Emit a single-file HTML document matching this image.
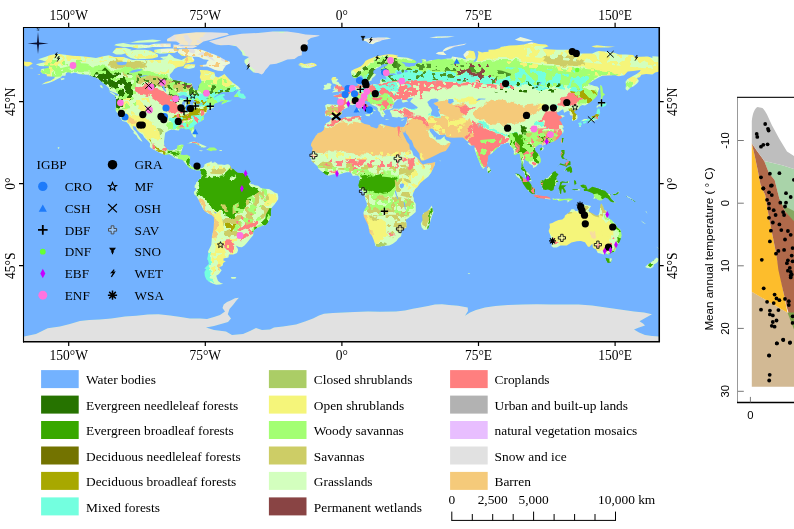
<!DOCTYPE html>
<html><head><meta charset="utf-8"><title>IGBP land cover map</title>
<style>
html,body{margin:0;padding:0;background:#fff;}
svg{display:block;}
text{font-family:"Liberation Serif","Times New Roman",serif;fill:#000;}
.sans{font-family:"Liberation Sans",Arial,sans-serif;}
</style></head><body>
<svg width="794" height="529" viewBox="0 0 794 529">
<rect width="794" height="529" fill="#fff"/>
<defs>
<clipPath id="frame"><rect x="23.5" y="27" width="635.7" height="314.5"/></clipPath>
<clipPath id="land">
<polygon points="35.9,64.2 43.2,62.6 46.8,62.0 43.2,60.8 38.1,59.3 45.0,57.1 50.5,54.9 56.9,53.8 65.1,54.8 72.3,55.7 81.5,56.2 88.7,56.9 96.0,58.0 103.3,56.2 108.8,55.3 114.2,57.1 123.3,57.1 132.5,59.9 145.2,59.9 152.5,59.9 159.8,59.9 165.2,58.9 167.1,56.2 168.9,53.5 172.5,56.2 174.3,58.0 178.0,58.9 181.6,59.9 185.3,58.0 187.1,56.6 192.6,57.1 194.4,59.9 193.5,61.7 188.9,62.9 185.3,63.5 183.4,66.2 178.0,67.1 174.3,69.0 172.5,71.7 169.8,74.4 169.8,76.8 173.4,79.9 179.8,80.8 187.1,83.0 192.0,83.5 192.6,87.2 195.3,90.3 198.0,89.9 198.9,85.3 201.7,81.7 199.8,77.2 200.7,73.5 199.8,70.1 207.1,70.2 214.4,72.6 215.3,76.2 218.1,77.5 222.6,75.3 224.4,73.9 229.0,79.0 232.6,82.6 238.1,86.3 240.5,89.0 236.3,90.3 232.6,92.1 227.2,92.1 221.7,92.3 219.0,93.7 215.3,95.9 213.5,97.6 214.8,97.6 218.1,95.4 220.8,94.3 224.4,94.1 225.0,95.4 222.6,96.6 223.9,98.1 225.3,99.9 230.8,100.5 232.6,99.0 230.8,101.2 226.2,102.5 221.7,104.5 221.7,102.7 224.4,100.8 219.9,101.7 214.4,104.1 213.1,107.2 214.4,107.8 210.8,108.7 207.1,109.8 207.1,111.8 204.4,114.5 203.5,116.3 204.0,119.0 201.7,120.9 198.0,122.7 194.4,125.4 193.8,128.2 195.3,132.7 196.2,136.3 195.3,137.8 193.5,136.7 191.3,133.1 191.1,130.9 188.9,129.1 186.2,129.6 183.4,128.3 179.8,128.5 178.9,130.5 176.2,130.3 171.6,129.6 168.9,130.5 165.2,132.7 164.7,136.3 164.0,141.8 164.3,145.5 167.1,149.1 169.8,150.6 174.3,149.8 177.1,148.2 177.4,145.5 181.6,144.5 183.8,144.9 182.5,148.2 181.6,150.9 180.4,154.6 183.4,154.9 187.1,154.7 190.2,156.4 189.8,160.0 189.5,163.7 191.6,166.4 194.4,167.7 197.1,166.4 200.9,167.9 200.0,170.6 196.2,170.4 194.4,169.7 191.1,168.8 189.5,167.9 187.1,165.5 185.6,163.7 182.5,160.0 178.9,159.1 175.3,158.2 171.6,155.5 168.9,154.2 165.2,154.9 160.7,153.3 156.1,150.9 152.5,149.1 149.8,146.9 150.1,143.6 147.9,140.9 144.3,137.6 142.5,134.5 139.7,132.7 137.0,130.0 135.7,126.7 132.8,126.0 133.4,129.1 136.1,131.8 137.9,134.5 139.7,137.3 141.6,140.0 142.5,141.8 141.0,140.9 137.9,138.2 136.6,135.4 133.4,133.1 133.9,131.4 131.0,128.5 128.8,124.5 126.4,122.1 122.4,120.9 120.1,117.2 118.8,114.9 116.4,111.8 115.5,110.1 115.9,107.2 116.1,102.7 116.1,99.4 114.8,95.5 118.8,95.4 117.9,94.1 114.2,92.6 109.7,90.8 108.8,88.1 105.1,84.4 102.4,82.6 99.7,79.9 95.1,77.2 92.4,76.8 87.8,74.8 83.3,74.4 78.7,74.1 75.1,72.6 71.4,73.5 68.7,72.2 66.0,73.0 65.4,75.7 62.3,75.7 60.5,77.5 56.9,79.3 53.2,81.2 48.7,83.0 44.1,83.9 41.4,84.4 45.9,82.1 50.5,80.8 54.1,78.6 55.0,76.8 50.5,76.6 46.8,76.2 46.8,74.4 42.3,73.5 40.5,71.7 41.4,69.0 45.0,68.6 48.7,67.7 48.7,66.2 45.0,66.2 39.6,66.0"/>
<polygon points="200.9,167.9 202.0,168.2 204.2,166.4 204.4,164.4 207.1,163.1 209.9,162.2 211.3,161.1 212.0,162.8 214.4,162.6 214.4,161.5 217.5,163.7 217.7,164.6 221.7,164.4 224.4,165.1 227.2,164.2 229.0,164.4 230.8,166.4 231.2,168.2 233.5,169.1 235.4,171.0 237.7,172.8 240.8,173.0 243.5,173.1 246.3,174.8 248.1,175.9 249.4,179.1 250.8,181.9 250.3,183.7 253.6,184.6 254.5,185.2 258.1,185.7 260.9,187.9 264.5,188.8 269.0,189.0 271.8,190.4 274.5,192.4 277.6,193.4 278.3,196.4 278.2,199.2 276.3,201.9 274.5,204.6 271.8,207.4 270.9,211.0 270.9,215.6 269.6,219.2 267.6,222.9 265.6,225.2 262.7,225.6 259.9,226.9 257.2,227.8 254.5,229.8 253.4,232.0 253.2,235.2 250.8,238.0 249.0,240.2 246.8,242.9 244.5,245.6 241.9,247.3 239.0,247.1 235.7,245.6 237.7,248.4 238.1,250.2 237.0,252.9 233.5,254.4 229.0,254.5 228.4,257.5 223.5,258.4 223.5,260.7 225.9,261.1 223.2,262.9 222.6,265.7 219.0,267.5 221.7,270.2 219.0,273.9 216.2,275.7 217.3,279.0 218.1,281.1 220.8,283.0 223.2,283.7 219.9,284.4 216.2,284.8 212.6,283.5 208.9,281.7 206.2,279.3 204.8,275.7 204.4,272.0 206.2,269.3 204.4,268.4 207.1,265.7 208.9,263.8 208.0,260.2 207.1,259.3 207.7,256.6 208.4,252.9 208.0,251.5 209.5,248.4 211.3,244.7 211.7,240.2 211.9,236.5 212.6,232.9 213.5,229.2 213.7,226.5 214.0,221.9 213.9,217.4 211.7,215.2 208.0,213.4 204.4,211.0 202.9,208.8 201.3,205.6 199.5,201.9 198.0,198.8 196.6,196.4 194.4,194.6 193.8,191.9 195.6,189.9 196.2,188.3 194.6,187.7 194.7,185.5 196.0,183.7 196.2,182.2 198.4,181.0 198.9,179.1 200.7,178.8 201.1,176.4 200.7,173.7 200.9,171.3 200.0,170.6"/>
<polygon points="261.8,74.6 258.1,73.1 253.6,72.6 250.8,69.9 248.1,67.1 244.5,62.6 244.5,59.9 249.0,57.1 242.6,55.3 242.1,52.6 239.9,49.8 236.3,46.2 229.0,44.9 220.8,45.3 216.2,44.4 212.6,42.9 208.9,41.3 218.1,38.9 223.5,37.6 229.0,35.8 241.7,33.8 258.1,32.9 272.7,31.6 287.3,31.6 298.2,32.9 305.5,34.4 318.2,35.3 320.0,35.8 310.9,38.0 307.3,40.7 308.2,43.5 305.5,46.2 307.3,48.0 301.8,50.7 301.8,52.6 301.8,55.3 298.2,56.2 294.5,58.9 287.3,59.5 281.8,61.7 276.3,63.7 270.0,64.4 268.1,67.1 265.4,69.9 263.6,73.0"/>
<polygon points="331.9,118.0 330.4,117.0 328.4,115.9 325.5,116.3 324.8,113.2 325.9,109.0 325.0,105.4 327.3,104.1 331.9,104.5 336.4,104.7 338.8,104.7 339.7,102.7 339.9,99.9 337.9,97.7 333.7,96.6 333.3,95.5 336.4,94.8 339.0,95.0 338.8,93.2 339.7,93.7 342.3,93.5 344.6,92.5 344.8,91.0 347.4,90.3 349.2,89.0 350.6,87.2 352.8,86.3 354.6,86.3 357.4,86.1 357.7,84.4 356.8,82.6 356.7,79.9 359.2,79.5 361.2,78.6 361.0,80.8 360.1,82.6 359.6,83.9 361.9,85.3 364.7,84.6 367.8,85.5 372.0,84.4 375.6,84.1 378.0,84.6 380.1,83.0 380.1,79.9 382.9,78.6 386.2,79.5 386.2,77.5 384.7,75.9 389.3,75.2 392.9,75.3 396.5,74.4 393.8,73.3 387.4,74.1 383.6,74.6 381.1,73.3 380.7,70.8 381.1,68.6 386.5,65.7 388.0,64.4 385.6,63.9 382.0,64.4 380.7,66.2 376.5,68.6 373.4,70.8 373.2,73.1 376.1,74.4 374.7,76.2 372.0,78.4 371.6,80.6 368.3,81.7 367.8,82.8 365.6,82.8 365.0,81.3 363.4,79.0 362.3,76.2 361.0,75.3 359.2,76.2 356.5,77.9 353.7,77.9 351.9,76.2 351.0,72.6 351.4,70.8 354.6,69.0 357.4,67.9 361.0,66.2 363.8,63.5 365.6,60.8 369.2,58.9 372.0,58.0 375.6,56.6 380.1,55.8 384.7,54.8 388.7,54.2 392.9,54.4 398.4,55.7 396.5,56.8 402.0,57.3 407.5,57.8 414.8,60.2 416.6,62.0 414.8,63.1 409.3,62.9 403.8,62.2 401.1,61.7 404.7,64.4 405.3,66.2 409.3,67.1 411.1,66.2 414.8,66.0 415.7,64.4 418.4,62.8 422.0,63.1 422.4,60.2 421.1,58.9 425.7,59.5 426.6,61.7 429.3,60.4 433.0,59.9 438.4,58.9 441.2,59.5 447.5,58.4 451.2,58.6 452.1,56.6 458.5,57.5 462.1,58.0 463.9,58.9 466.7,59.3 463.9,56.2 463.4,54.4 466.7,51.1 469.4,50.4 473.9,51.3 474.9,53.5 475.8,58.0 473.0,62.6 476.7,60.8 477.6,58.0 478.5,53.5 477.6,51.1 482.1,52.6 484.9,52.0 488.5,51.7 488.5,49.8 494.9,49.5 500.4,48.0 500.4,47.1 509.5,45.6 516.7,45.3 524.0,44.4 531.3,42.2 535.0,42.9 538.6,44.0 545.9,44.4 548.6,46.2 542.2,48.6 547.7,49.3 556.8,49.8 565.9,49.8 573.2,49.8 577.8,51.7 576.8,53.5 582.3,53.5 586.0,53.5 592.3,53.5 596.0,51.7 598.7,51.1 607.8,51.8 615.1,53.1 618.7,54.4 626.0,54.4 633.3,54.9 634.2,56.8 640.6,56.8 647.9,56.6 652.4,58.0 652.4,56.2 657.0,56.6 663.4,56.9 669.7,58.0 669.7,65.3 667.0,66.2 665.2,65.9 668.8,69.9 660.6,71.1 655.2,72.6 652.4,74.4 646.1,74.1 641.5,74.8 639.7,77.2 637.0,78.1 638.8,80.8 638.4,81.7 637.0,83.5 633.3,86.6 630.6,87.4 627.3,90.8 625.5,89.0 626.0,85.3 625.5,81.7 627.3,79.3 632.4,76.2 636.6,73.9 639.7,71.7 640.6,69.9 633.3,71.1 627.8,71.5 624.2,75.3 618.7,76.2 615.1,75.2 607.8,75.5 602.3,75.7 597.8,78.1 593.2,80.8 588.3,84.1 592.3,85.3 594.2,85.9 597.4,86.6 599.2,88.6 597.8,92.6 597.4,95.4 594.2,99.0 589.6,102.7 585.0,105.4 582.3,105.0 580.1,106.3 578.3,109.0 575.0,110.8 574.1,112.1 577.4,115.4 577.6,118.1 576.5,119.8 572.3,120.9 571.9,119.0 572.5,116.3 570.1,115.0 569.6,113.6 569.9,111.8 568.1,110.8 564.1,112.7 563.2,109.4 562.3,109.4 558.6,112.1 556.3,112.7 557.7,114.5 559.0,115.8 561.9,114.9 565.0,115.9 562.3,117.6 559.2,120.0 561.0,121.8 562.3,124.5 563.9,127.2 562.3,128.2 563.7,130.0 563.2,132.7 560.5,135.4 558.6,138.2 556.8,139.4 555.0,141.1 550.4,142.7 548.6,143.3 545.0,144.5 542.8,145.5 542.6,146.7 541.7,144.5 539.1,144.4 536.4,146.4 534.6,149.1 535.9,151.8 539.0,154.6 540.8,159.1 540.8,162.2 537.7,164.6 536.2,166.4 533.1,167.9 532.8,165.5 529.5,163.7 528.2,161.5 525.7,160.4 524.9,159.1 524.0,159.5 523.7,162.8 522.6,165.5 523.7,166.9 524.6,168.6 525.9,171.0 527.7,172.4 529.9,175.0 530.4,178.2 531.7,181.2 530.4,181.3 526.8,178.6 525.3,176.4 524.6,173.3 523.1,171.0 520.9,169.1 521.3,166.4 521.5,161.8 520.4,158.2 519.7,154.2 517.7,153.6 515.5,154.9 513.6,154.6 514.0,151.3 512.7,148.2 510.0,145.8 509.1,142.7 506.7,143.1 504.0,144.0 500.4,144.5 500.0,146.4 497.6,147.8 494.9,150.6 491.8,153.5 488.2,155.5 488.0,159.1 487.2,162.8 487.2,164.9 485.8,166.8 484.3,167.7 483.1,168.9 480.9,165.9 479.4,162.2 478.0,159.1 476.7,155.5 475.4,151.8 474.5,149.1 474.5,145.5 473.2,145.5 471.2,145.8 469.4,145.1 467.6,143.3 469.8,142.2 466.7,140.9 464.5,139.1 463.0,137.6 458.5,137.6 453.9,137.8 449.4,137.4 446.3,136.7 445.3,134.5 442.1,135.1 439.3,135.1 437.5,133.6 434.8,131.2 433.0,129.1 430.8,128.5 429.3,129.4 430.2,131.8 432.1,134.0 433.3,135.4 434.2,137.8 435.2,136.2 435.9,138.2 435.7,139.4 437.5,139.6 440.3,139.6 443.0,137.6 444.4,136.0 444.8,138.5 446.6,140.4 448.8,140.9 450.8,142.7 449.4,145.8 447.2,149.1 445.7,150.9 443.0,151.8 440.3,152.7 437.0,154.6 433.0,156.4 429.3,158.2 423.9,160.4 421.1,160.6 420.2,158.2 419.7,156.4 419.3,153.6 416.6,150.0 413.8,146.4 412.9,143.6 411.7,140.4 409.8,139.1 408.4,136.3 405.6,132.7 405.3,130.2 404.2,133.1 402.4,131.8 401.3,129.2 400.9,126.9 404.2,126.7 405.5,124.5 406.6,121.8 407.1,118.1 407.8,116.9 404.7,116.9 402.0,118.0 398.4,116.7 397.4,117.6 394.7,117.2 392.0,116.7 391.4,113.9 390.2,112.1 389.8,110.8 391.1,109.9 394.7,109.0 394.7,108.7 392.9,108.1 390.2,109.6 385.6,109.4 385.1,110.8 383.2,109.9 383.8,112.1 385.6,114.5 383.8,115.4 383.8,117.2 382.0,116.7 380.7,114.9 380.1,112.7 378.0,110.8 377.4,108.1 376.5,106.8 372.9,105.4 370.1,103.6 369.2,101.7 367.4,101.7 366.7,100.5 364.3,101.2 364.5,103.2 366.9,104.5 368.7,106.8 371.0,107.4 371.4,107.8 374.7,109.8 375.6,110.5 375.2,111.2 372.9,109.9 372.0,111.4 373.2,112.7 372.0,113.9 371.0,114.5 370.5,114.5 371.0,112.7 370.5,110.8 368.3,109.6 365.6,108.5 363.8,107.2 361.0,105.4 360.5,103.6 357.7,102.8 355.6,103.9 352.8,105.2 350.1,104.7 347.7,105.0 347.7,106.7 347.7,107.6 345.5,108.5 343.4,109.4 341.4,111.8 342.3,113.2 340.6,115.0 338.3,116.7 333.7,116.9"/>
<polygon points="331.2,118.5 332.2,118.3 336.4,119.4 338.3,119.8 341.9,118.5 344.6,117.2 347.4,116.7 351.0,116.7 354.6,116.3 359.7,115.8 361.9,116.3 360.5,117.2 361.4,118.7 360.5,121.2 361.9,122.5 364.7,124.0 369.6,124.9 371.0,126.7 373.8,127.6 376.5,128.5 378.3,127.2 378.5,124.9 381.1,123.8 384.2,124.9 387.4,125.8 391.1,126.7 394.7,127.4 398.4,126.3 400.9,126.9 401.3,129.2 402.9,132.7 403.8,135.4 405.6,139.1 406.9,141.8 409.3,144.5 409.8,149.1 412.0,150.9 413.5,155.5 416.6,157.3 419.3,160.0 420.8,162.4 422.9,164.6 427.5,163.3 431.1,163.1 435.2,162.0 435.0,164.6 433.3,168.2 431.1,172.8 428.4,176.4 423.9,180.1 420.2,183.2 417.5,187.0 415.1,189.2 413.5,192.4 412.6,195.5 413.8,198.3 413.8,201.0 415.7,203.7 415.8,209.2 415.7,211.9 412.0,215.2 408.4,217.9 405.6,220.1 406.6,223.8 406.6,227.4 402.0,230.1 401.6,232.9 401.1,236.2 398.4,238.3 396.5,241.1 392.9,243.8 389.3,245.6 383.8,246.0 378.3,247.1 375.4,246.0 374.7,242.9 373.4,239.2 372.0,236.0 369.6,232.9 368.3,225.6 366.5,221.9 363.8,216.5 363.4,212.8 364.7,209.2 366.5,206.5 367.0,203.7 365.6,200.1 364.3,194.6 363.8,192.8 361.9,190.6 359.2,188.3 358.3,185.2 359.2,181.9 359.7,178.2 359.2,176.4 357.4,175.5 354.6,175.7 352.8,175.9 351.6,173.7 350.1,172.2 346.5,172.2 343.7,173.0 340.1,174.2 338.3,175.0 336.4,174.4 333.7,174.2 331.0,175.0 328.2,175.7 325.5,174.6 322.8,172.2 321.0,171.1 318.2,168.6 317.7,166.4 315.5,164.6 314.6,163.7 311.5,161.1 311.3,159.1 310.0,156.9 311.8,154.6 312.2,150.9 312.6,148.2 310.9,145.5 311.3,143.3 312.8,140.5 314.9,137.3 315.5,136.0 318.2,133.1 321.0,132.2 323.7,130.0 324.2,127.2 325.0,124.5 326.4,122.9 329.2,121.8 330.6,119.6"/>
<polygon points="431.7,205.6 433.5,211.9 432.1,215.6 430.2,221.9 428.4,228.3 426.6,229.8 423.9,230.1 421.7,227.4 420.8,223.8 422.6,220.1 422.0,215.6 423.9,212.8 427.5,211.0 429.9,208.3"/>
<polygon points="549.5,223.8 549.9,227.4 548.6,231.1 550.4,235.6 551.3,239.2 552.6,242.0 551.3,246.0 553.2,247.4 556.8,247.4 560.5,245.6 566.8,245.6 571.4,242.5 576.8,241.3 580.9,241.1 585.0,242.3 587.8,246.5 589.2,247.1 592.3,243.8 592.9,247.4 594.2,248.4 596.0,249.3 597.8,252.9 600.5,253.6 603.3,254.4 606.0,253.3 608.4,254.7 611.5,252.5 615.1,251.6 616.0,248.4 617.5,244.7 619.6,242.0 620.6,239.2 621.7,235.6 620.9,231.1 620.2,229.2 616.9,226.9 616.0,224.7 613.3,221.9 611.5,220.1 608.7,218.3 607.8,215.6 606.7,212.8 606.5,210.7 604.2,209.7 603.3,207.0 601.6,203.4 600.5,204.6 600.0,208.3 599.6,211.9 598.3,215.6 596.0,215.6 593.2,213.8 589.6,211.9 588.7,210.7 589.6,208.3 591.1,205.9 588.7,205.6 584.1,204.6 582.3,204.1 580.5,205.9 578.7,208.3 577.8,211.0 575.4,211.0 574.1,209.2 571.4,209.2 569.6,211.9 567.7,213.4 565.0,215.6 564.5,217.4 562.3,219.4 558.6,220.1 555.0,221.4 552.3,222.9"/>
<polygon points="605.4,257.8 608.7,258.6 611.8,258.2 612.0,260.6 610.5,262.6 607.8,263.1 606.4,260.7"/>
<polygon points="656.4,246.5 659.7,249.6 662.1,251.1 663.4,252.5 666.6,252.4 665.2,255.3 663.9,257.1 661.2,259.5 660.3,258.7 660.6,256.6 658.4,255.3 660.1,252.9 659.9,250.7 657.9,248.4"/>
<polygon points="656.6,257.5 659.2,258.9 657.9,261.5 656.6,263.1 653.9,264.4 653.3,267.1 650.6,268.6 647.5,268.0 645.1,267.1 647.9,264.2 651.5,262.0 654.3,259.8"/>
<polygon points="580.5,185.2 583.2,184.4 586.0,185.3 587.8,189.7 592.3,186.8 596.0,187.7 598.7,188.4 602.3,189.9 605.1,190.8 607.4,193.2 610.5,194.6 611.1,196.4 609.6,196.4 611.5,199.2 614.2,201.5 616.0,202.8 613.3,202.5 610.5,201.5 607.8,198.6 605.1,197.5 603.3,198.8 601.4,200.5 598.7,200.3 596.0,198.5 593.2,198.8 594.2,196.4 593.2,193.7 589.6,192.1 586.9,191.0 584.1,191.0 583.6,189.5 585.4,188.3 582.9,187.9 580.5,186.2"/>
<polygon points="540.4,181.0 541.5,180.1 544.1,180.4 545.0,178.6 547.7,177.9 550.4,175.1 553.2,171.9 555.4,171.0 556.3,172.8 558.6,174.2 557.2,175.9 556.3,177.3 556.8,180.1 558.5,181.9 556.4,182.4 555.9,185.0 554.1,186.8 553.7,189.5 552.8,190.4 550.8,191.0 549.5,189.9 547.7,189.5 545.5,190.1 542.8,189.2 542.2,186.4 540.8,184.6 540.4,182.8"/>
<polygon points="515.5,173.5 518.6,174.0 520.9,176.1 524.0,178.6 526.8,180.1 529.5,182.2 531.0,184.2 532.2,187.0 535.0,188.8 535.0,191.0 534.6,194.3 532.2,193.9 529.5,191.9 526.8,189.2 524.9,186.4 523.1,184.1 521.8,181.0 519.5,178.6 516.7,176.4 515.5,174.6"/>
<polygon points="533.5,196.1 535.9,194.6 539.5,195.5 543.2,196.1 546.8,196.3 550.3,197.7 550.4,199.5 546.8,199.0 542.2,198.5 538.6,197.9 535.9,197.2"/>
<polygon points="560.1,182.2 562.3,181.3 565.9,181.9 569.6,180.8 568.7,182.8 565.9,182.8 562.3,182.8 561.0,185.2 563.2,185.3 566.5,185.3 564.6,187.0 563.7,187.3 565.0,189.7 565.9,191.0 565.4,192.8 563.7,192.4 563.2,190.1 561.9,188.6 561.4,191.0 561.2,193.7 559.5,193.7 559.5,190.1 558.5,188.6 559.5,185.5 560.1,183.7"/>
<polygon points="552.3,198.6 555.0,198.8 558.6,198.8 562.3,199.0 565.9,198.8 568.7,198.6 573.2,199.0 570.5,200.6 567.2,202.5 567.7,200.6 564.1,199.9 560.5,201.0 558.6,201.2 557.7,199.7 555.0,200.1 553.2,199.9"/>
<polygon points="574.1,180.1 575.9,181.0 576.3,183.2 574.8,185.2 574.1,182.8"/>
<polygon points="575.0,189.2 580.1,189.2 579.6,190.6 575.9,190.3 571.7,189.7 573.2,189.3"/>
<polygon points="561.4,150.0 564.5,150.0 564.6,153.6 563.2,156.4 564.1,158.2 567.7,160.0 567.7,160.9 565.0,159.1 562.3,158.7 561.4,157.3 560.5,154.6 561.2,152.7"/>
<polygon points="564.1,171.0 566.8,168.0 570.5,165.9 571.9,168.2 572.3,171.9 570.5,173.3 569.6,171.3 567.7,171.9 566.8,170.0"/>
<polygon points="564.1,164.6 565.9,162.6 568.7,160.9 570.5,161.5 570.5,165.1 567.7,165.5 566.3,166.9 565.0,166.0 559.5,164.6 555.5,168.2 558.6,165.5 560.1,163.3"/>
<polygon points="562.3,137.8 563.9,138.2 563.0,141.8 561.9,143.6 560.8,141.8 561.0,140.0"/>
<polygon points="539.9,148.5 542.2,147.3 544.1,147.8 542.8,150.2 540.4,150.4"/>
<polygon points="487.2,166.0 489.1,167.3 490.9,170.0 490.3,172.2 488.5,173.0 487.2,171.0 487.2,168.2"/>
<polygon points="580.3,121.8 582.3,121.2 585.0,121.2 587.8,120.7 589.2,122.7 591.1,121.2 594.2,120.7 596.0,120.0 598.3,119.0 598.7,115.4 600.2,112.7 599.6,109.0 597.8,108.5 596.9,110.8 596.5,113.6 594.2,115.8 591.4,116.3 590.5,118.1 588.7,118.9 584.1,119.0 581.4,120.5"/>
<polygon points="578.7,122.7 581.0,122.3 581.9,124.0 580.5,126.9 579.2,126.7 579.0,124.5 578.1,123.6"/>
<polygon points="582.9,122.1 586.0,121.2 587.0,122.1 585.0,123.6 583.4,123.8"/>
<polygon points="596.9,108.1 598.7,106.3 602.7,107.2 606.0,105.4 606.5,103.2 603.3,103.0 600.5,101.0 599.6,103.6 599.2,105.0 597.4,105.4 596.5,106.8"/>
<polygon points="600.5,84.8 602.0,86.3 602.7,89.0 602.9,92.6 605.1,94.5 602.9,96.3 602.3,99.0 600.5,99.9 600.9,96.3 600.5,92.6 600.2,89.0 600.2,86.3"/>
<polygon points="331.9,92.5 335.5,92.1 340.1,91.4 344.3,90.4 344.1,89.0 345.0,87.7 342.4,87.2 341.5,85.3 339.2,83.5 338.3,81.7 336.4,81.7 338.3,79.0 335.5,78.6 336.4,77.0 332.8,77.0 331.3,79.0 331.9,81.2 332.8,83.5 335.5,83.9 336.4,86.3 333.7,86.8 334.1,88.4 332.4,89.4 335.5,89.9 333.7,90.8"/>
<polygon points="331.0,88.6 330.6,86.6 331.7,84.4 330.1,83.2 327.3,83.2 326.4,84.8 323.7,85.0 324.6,87.2 323.1,89.0 324.6,89.9 327.3,89.4"/>
<polygon points="300.9,67.3 305.5,68.0 309.1,68.2 314.6,66.6 317.1,65.3 314.9,63.5 311.8,62.8 308.2,63.5 304.6,64.0 300.9,62.8 298.2,64.4 301.8,65.0 298.2,65.7 301.8,66.6"/>
<polygon points="361.9,38.9 367.4,38.4 371.0,38.0 378.3,37.4 387.4,37.6 391.1,38.4 382.0,40.2 380.1,41.3 375.6,42.5 372.9,44.2 369.2,43.5 366.5,41.6 362.8,40.2"/>
<polygon points="435.7,53.5 438.4,54.4 443.0,55.1 446.6,55.1 443.9,52.6 443.0,50.2 445.7,48.0 449.4,46.6 456.6,45.3 462.1,44.2 466.7,43.5 463.9,44.9 454.8,46.7 449.4,48.9 445.7,50.7 442.1,51.7 438.4,52.0"/>
<polygon points="514.9,39.8 520.4,37.1 527.7,38.9 533.1,40.7 524.0,41.6 518.6,40.7"/>
<polygon points="591.4,46.2 596.9,45.3 606.0,46.2 615.1,46.7 607.8,47.5 600.5,47.5 595.1,47.6"/>
<polygon points="667.0,54.4 669.7,53.5 669.7,54.6"/>
<polygon points="429.3,37.4 436.6,36.5 447.5,36.2 454.8,36.5 447.5,37.6 436.6,38.0"/>
<polygon points="234.1,97.0 238.1,97.0 241.7,98.5 245.4,98.6 245.9,97.0 244.5,95.4 243.5,93.7 240.5,93.5 239.9,91.7 240.8,89.9 238.1,90.8 236.3,93.5 234.4,95.4"/>
<polygon points="187.3,143.8 190.7,142.0 194.4,141.6 198.0,142.7 201.7,144.5 205.3,146.0 206.8,146.9 204.4,147.5 200.4,147.6 201.3,146.4 198.9,145.5 195.3,143.6 192.6,142.9 189.8,143.3"/>
<polygon points="206.4,149.8 209.9,147.5 214.4,147.6 217.1,149.6 216.2,150.4 212.6,150.6 211.3,151.3 208.9,150.6"/>
<polygon points="199.3,150.2 202.9,150.6 201.8,151.3 199.5,150.9"/>
<polygon points="219.5,150.0 222.2,150.2 221.9,150.9 219.5,150.9"/>
<polygon points="178.0,49.3 187.1,48.9 196.2,48.9 201.7,49.7 208.9,52.6 214.4,54.4 219.9,57.1 225.3,59.9 229.9,61.7 229.9,63.5 226.2,65.3 223.5,69.0 222.6,71.1 218.1,70.8 214.4,69.7 210.8,68.0 207.1,66.4 200.7,66.8 199.3,65.3 206.2,64.4 207.1,61.7 208.9,59.9 203.5,59.3 198.9,57.1 196.2,56.8 192.6,56.8 187.1,56.6 181.6,55.7 178.0,52.6"/>
<polygon points="125.2,53.5 128.8,50.7 136.1,49.8 145.2,49.8 150.7,50.7 157.9,54.4 157.9,57.1 152.5,58.6 145.2,58.9 136.1,59.3 130.6,58.0 127.0,55.8"/>
<polygon points="112.4,52.6 116.1,48.0 125.2,47.8 131.5,49.8 128.8,52.6 121.5,54.4 116.1,54.4"/>
<polygon points="178.0,44.9 187.1,44.9 198.0,45.3 203.5,41.6 210.8,39.8 219.9,37.1 229.0,34.7 227.2,32.9 210.8,32.2 196.2,32.3 183.4,33.6 174.3,34.7 170.7,37.1 167.1,38.9 167.1,41.3 176.2,41.6 179.8,43.5"/>
<polygon points="173.4,48.0 181.6,48.2 192.6,48.2 197.1,46.6 194.4,45.3 181.6,45.6 173.4,44.4"/>
<polygon points="159.8,57.1 167.1,56.2 168.0,58.4 163.4,58.9"/>
<polygon points="114.2,45.3 123.3,47.1 130.6,47.1 137.9,48.4 148.8,47.8 152.5,47.1 163.4,47.1 170.7,47.1 170.7,43.5 163.4,43.5 154.3,43.8 148.8,45.3 141.6,44.4 130.6,44.4 123.3,43.1 116.1,44.0"/>
<polygon points="119.7,42.4 130.6,42.4 137.9,40.7 152.5,39.5 161.6,40.4 154.3,42.2 137.9,42.7"/>
<polygon points="154.3,49.8 159.8,48.9 167.1,48.6 176.2,48.6 178.9,50.7 174.3,52.9 168.9,52.9 165.2,53.5 159.8,53.8 154.3,52.6"/>
<polygon points="183.4,68.0 188.9,69.0 194.4,67.7 195.3,64.4 188.9,63.9 185.3,64.8"/>
<polygon points="108.4,91.2 112.4,92.6 117.0,95.7 114.2,95.2 111.5,93.5"/>
<polygon points="99.7,85.2 102.0,85.5 103.3,88.6 100.6,87.2"/>
<polygon points="60.5,78.4 64.2,78.1 64.5,79.3 61.4,80.3"/>
<polygon points="359.0,105.4 359.2,107.2 358.7,108.3 357.6,107.2 357.7,106.1"/>
<polygon points="358.7,108.7 359.6,109.9 359.2,112.3 357.4,112.7 357.2,109.9"/>
<polygon points="364.7,114.5 370.1,114.1 369.6,116.3 366.5,115.9"/>
<polygon points="384.9,119.0 389.6,119.6 386.5,120.0"/>
<polygon points="400.7,120.0 402.9,119.4 404.7,118.9 403.5,120.1 402.0,120.7"/>
<polygon points="57.8,146.9 59.6,147.6 58.7,149.1 57.8,148.2"/>
<polygon points="230.8,277.1 236.3,277.1 235.4,278.8 231.7,278.8"/>
<polygon points="467.6,272.9 470.3,273.3 469.0,274.2"/>
<polygon points="640.6,220.3 645.1,223.4 646.1,224.3 643.3,222.9"/>
<polygon points="612.4,193.7 616.0,193.7 618.7,191.3 619.3,192.8 616.9,194.6 614.2,195.2"/>
<polygon points="626.0,195.5 629.7,197.4 633.3,200.1 636.0,202.3 634.2,201.5 630.6,198.8 626.9,196.8"/>
<polygon points="664.8,215.6 667.2,215.6 667.0,216.8 664.8,216.7"/>
<polygon points="645.3,211.0 646.4,211.4 647.5,213.8 646.6,212.8"/>
<polygon points="439.0,160.8 441.2,160.8 440.3,161.3"/>
<polygon points="14.1,58.0 19.5,59.3 25.0,61.7 30.5,62.0 32.8,63.5 28.6,66.2 26.8,66.6 21.4,64.4 16.8,63.5 14.1,65.3"/>
<polygon points="29.0,68.0 34.1,68.4 31.7,67.7"/>
<polygon points="37.2,74.1 40.1,73.9 39.6,74.8"/>
<polygon points="24,336.5 36,334 47.7,328.2 60,326.5 69.9,324 80,321 89.3,319.9 100,319.5 111.4,318.5 125,316.5 136.4,315.7 148,314.5 158.5,314.3 170,315.5 180.7,317.1 190,318.5 200,318.5 207,319 214,317 220,315 225,311.6 222.5,308 223.7,304.6 227,302 230.6,300.5 235,298.2 238.9,297.7 236,301 233.4,304.6 229.5,309 227.8,314.3 231,318.5 228,322 221,324 214,326 206,327.5 214,330 226,331.5 232,335 243,334 250,331 256,328 262,330 270,329.5 274,327.5 283,326.5 296,324.5 305,321.5 313,318.5 319,315.5 324,313.8 333,313 344,312.6 354.7,312.1 368,311.5 380,311.8 396,311.6 405,310.6 412.9,308.8 420,307.5 428,306 435,304.6 442,304.2 449,305 458,305.8 467.7,307.4 468,311 465,315.7 470,312.5 476,310 485,307.5 495.4,306 508,305 523,304.6 537,304.2 550.8,304.6 565,304.6 578.5,304.6 592,305.5 606,307.4 620,309.5 634,311.6 644,312.5 652,314.3 647,317 639.5,321.3 643,323.5 645,325.4 639,327.5 634,329.6 639,332.5 645,335 652,336 659.2,336.5 659.2,341.5 24,341.5"/>
</clipPath>
<filter id="rough" x="0" y="0" width="100%" height="100%" filterUnits="userSpaceOnUse" primitiveUnits="userSpaceOnUse">
<feTurbulence type="fractalNoise" baseFrequency="0.11" numOctaves="3" seed="7" result="n"/>
<feDisplacementMap in="SourceGraphic" in2="n" scale="9" xChannelSelector="R" yChannelSelector="G"/>
</filter>
<filter id="spA" x="0" y="0" width="794" height="529" filterUnits="userSpaceOnUse" color-interpolation-filters="sRGB">
<feTurbulence type="fractalNoise" baseFrequency="0.13" numOctaves="2" seed="3" result="n"/>
<feColorMatrix in="n" type="matrix" values="0 0 0 0 0  0 0 0 0 0  0 0 0 0 0  40 0 0 0 -20" result="m"/>
<feComposite in="SourceGraphic" in2="m" operator="in"/>
</filter>
<filter id="spB" x="0" y="0" width="794" height="529" filterUnits="userSpaceOnUse" color-interpolation-filters="sRGB">
<feTurbulence type="fractalNoise" baseFrequency="0.16" numOctaves="2" seed="11" result="n"/>
<feColorMatrix in="n" type="matrix" values="0 0 0 0 0  0 0 0 0 0  0 0 0 0 0  40 0 0 0 -22" result="m"/>
<feComposite in="SourceGraphic" in2="m" operator="in"/>
</filter>
<filter id="spC" x="0" y="0" width="794" height="529" filterUnits="userSpaceOnUse" color-interpolation-filters="sRGB">
<feTurbulence type="fractalNoise" baseFrequency="0.19" numOctaves="2" seed="23" result="n"/>
<feColorMatrix in="n" type="matrix" values="0 0 0 0 0  0 0 0 0 0  0 0 0 0 0  40 0 0 0 -24" result="m"/>
<feComposite in="SourceGraphic" in2="m" operator="in"/>
</filter>
<filter id="spD" x="0" y="0" width="794" height="529" filterUnits="userSpaceOnUse" color-interpolation-filters="sRGB">
<feTurbulence type="fractalNoise" baseFrequency="0.11" numOctaves="2" seed="41" result="n"/>
<feColorMatrix in="n" type="matrix" values="0 0 0 0 0  0 0 0 0 0  0 0 0 0 0  40 0 0 0 -21" result="m"/>
<feComposite in="SourceGraphic" in2="m" operator="in"/>
</filter>

</defs>
<rect x="23.5" y="27" width="635.7" height="314.5" fill="#73B2FF"/>
<g clip-path="url(#frame)"><g clip-path="url(#land)">
<rect x="0" y="0" width="700" height="360" fill="#D3FFBE"/>
<g filter="url(#rough)">
<polygon fill="#EEF7D6" points="105.1,52.6 232.6,30.7 232.6,74.4 214.4,70.8 168.9,59.9 105.1,56.2"/>
<polygon fill="#F2E6C4" points="159.8,30.7 232.6,30.7 232.6,48.9 196.2,48.9 159.8,45.3"/>
<polygon fill="#D3FFBE" points="108.8,46.7 159.8,46.7 159.8,59.9 108.8,59.9"/>
<polygon fill="#F5F57A" points="32.3,61.7 57.8,52.6 85.1,55.3 108.8,54.4 141.6,58.0 168.9,51.7 188.9,55.3 198.0,61.7 185.3,69.0 172.5,75.3 159.8,73.5 141.6,68.0 123.3,64.4 105.1,61.7 85.1,60.8 68.7,62.6 54.1,67.1 52.3,74.4 56.0,79.9 39.6,85.3 35.9,74.4"/>
<polygon fill="#D3FFBE" points="127.0,61.7 159.8,61.7 174.3,67.1 167.1,72.6 150.7,70.8 137.9,66.2"/>
<polygon fill="#F5F57A" points="198.0,69.0 214.4,70.8 225.3,73.5 230.8,80.8 221.7,82.6 210.8,80.8 201.7,79.0"/>
<polygon fill="#D3FFBE" points="203.5,72.6 214.4,73.5 219.9,78.1 210.8,79.0"/>
<polygon fill="#CDCD66" points="108.8,59.9 127.0,60.8 145.2,62.6 148.8,67.1 137.9,69.0 123.3,68.0 108.8,65.3"/>
<polygon fill="#A3FF73" points="50.5,67.1 68.7,62.6 85.1,63.5 97.8,66.2 112.4,69.0 127.0,68.0 141.6,69.0 159.8,74.4 170.7,77.2 174.3,80.8 159.8,80.8 141.6,77.2 123.3,73.5 105.1,72.6 86.9,72.6 68.7,71.7 57.8,74.4"/>
<polygon fill="#D3FFBE" points="57.8,69.0 72.3,67.1 76.0,69.9 65.1,71.7"/>
<polygon fill="#267300" points="94.2,70.8 108.8,70.8 121.5,74.4 130.6,79.9 135.2,87.2 135.2,94.5 134.3,99.9 127.0,102.7 122.4,109.0 117.0,110.8 115.1,99.9 116.1,94.5 108.8,89.0 103.3,83.5 96.0,77.2 90.6,74.4"/>
<polygon fill="#CDCD66" points="123.3,73.5 150.7,76.6 167.1,79.5 178.0,83.0 188.9,85.7 196.2,89.0 196.2,91.7 181.6,91.7 167.1,88.1 152.5,83.9 137.9,80.8 127.0,79.0"/>
<polygon fill="#894444" points="172.5,79.9 181.6,81.3 190.7,83.9 192.6,87.2 187.1,88.1 178.0,85.3 170.7,82.6"/>
<polygon fill="#A3FF73" points="199.8,79.9 214.4,79.9 229.0,81.7 232.6,85.3 214.4,85.3 199.8,85.3"/>
<polygon fill="#73FFDF" points="165.2,93.0 178.0,92.1 192.6,93.0 203.5,91.2 218.1,89.9 232.6,89.0 239.9,89.0 247.2,98.1 232.6,101.7 223.5,104.5 214.4,106.3 207.1,109.0 203.5,106.3 196.2,103.6 188.9,99.9 178.0,99.9 170.7,99.0"/>
<polygon fill="#A3FF73" points="196.2,86.3 210.8,85.3 225.3,84.4 236.3,87.2 232.6,89.4 218.1,89.9 203.5,91.2"/>
<polygon fill="#F5F57A" points="128.8,114.5 137.9,113.6 145.2,118.1 152.5,123.6 157.9,130.0 159.8,138.2 156.1,143.6 149.8,141.8 142.5,133.6 136.1,127.2 132.5,129.1 128.8,123.6 127.0,119.0"/>
<polygon fill="#F5CA7A" points="128.8,117.2 133.4,117.2 135.2,123.6 131.5,126.3 129.7,122.7"/>
<polygon fill="#ABCD66" points="157.9,129.1 163.4,130.0 164.3,138.2 161.6,140.9 158.9,136.3"/>
<polygon fill="#A3FF73" points="117.0,109.0 121.5,109.0 124.3,116.3 121.5,118.1"/>
<polygon fill="#FF7F7F" points="119.7,110.8 121.9,111.8 125.2,119.0 123.3,119.0"/>
<polygon fill="#A8A800" points="171.6,117.6 181.6,116.7 188.9,113.4 196.2,109.4 203.5,106.7 208.0,107.2 201.7,111.2 195.3,115.8 188.9,119.0 181.6,120.3 171.6,120.0"/>
<polygon fill="#A3FF73" points="168.9,120.9 181.6,121.8 188.9,120.9 196.2,117.2 201.7,112.7 204.4,116.3 203.5,120.0 199.8,121.8 194.4,126.3 192.6,132.7 194.4,138.2 190.7,130.0 179.8,129.1 168.9,130.3 166.1,125.4"/>
<polygon fill="#FF7F7F" points="174.3,117.2 178.0,116.3 178.0,125.4 175.3,126.3"/>
<polygon fill="#38A800" points="162.5,147.3 166.1,151.8 174.3,151.8 180.7,151.8 180.7,155.8 188.0,156.0 190.2,160.0 189.8,164.6 192.6,167.3 200.7,169.1 196.2,170.4 188.9,166.8 186.2,162.8 183.4,158.2 176.2,155.5 168.9,152.7"/>
<polygon fill="#A3FF73" points="176.2,144.5 183.4,144.5 182.5,150.0 176.2,150.0"/>
<polygon fill="#A8A800" points="148.8,140.0 152.5,140.9 156.1,149.1 164.3,154.6 168.0,154.0 159.8,149.1 152.5,145.5"/>
<polygon fill="#A3FF73" points="187.1,142.7 205.3,146.4 207.1,148.2 199.8,148.2 187.1,144.5"/>
<polygon fill="#FF7F7F" points="192.6,141.8 199.8,143.3 198.9,144.9 191.6,143.1"/>
<polygon fill="#A3FF73" points="205.3,147.5 218.1,148.2 218.1,150.9 206.2,150.9"/>
</g>
<g filter="url(#spA)">
<polygon fill="#A3FF73" points="161.6,145.5 185.3,149.1 203.5,171.0 188.9,171.0 161.6,156.4"/>
<polygon fill="#F5F57A" points="119.7,98.1 148.8,98.1 152.5,114.5 127.0,114.5"/>
<polygon fill="#D3FFBE" points="32.3,52.6 168.9,52.6 196.2,63.5 168.9,74.4 123.3,65.3 86.9,61.7 50.5,70.8 32.3,70.8"/>
<polygon fill="#73FFDF" points="168.9,118.1 203.5,114.5 199.8,123.6 188.9,129.1 168.9,129.1"/>
<polygon fill="#A3FF73" points="159.8,81.7 232.6,81.7 239.9,99.9 214.4,105.4 188.9,103.6 163.4,94.5"/>
<polygon fill="#D3FFBE" points="148.8,129.1 165.2,132.7 167.1,152.7 152.5,149.1"/>
<polygon fill="#E1E1E1" points="159.8,30.7 232.6,30.7 232.6,70.8 205.3,56.2 159.8,45.3"/>
</g>
<g filter="url(#spB)">
<polygon fill="#A3FF73" points="94.2,70.8 136.1,70.8 136.1,107.2 114.2,110.8"/>
<polygon fill="#F5F57A" points="196.2,70.8 229.0,74.4 236.3,85.3 214.4,89.0 196.2,81.7"/>
<polygon fill="#A3FF73" points="41.4,59.9 86.9,59.9 86.9,74.4 41.4,78.1"/>
<polygon fill="#F5F57A" points="108.8,45.3 159.8,45.3 159.8,58.0 108.8,58.0"/>
<polygon fill="#FF7F7F" points="152.5,143.6 167.1,145.5 167.1,150.9 152.5,149.1"/>
</g>
<g filter="url(#spC)">
<polygon fill="#FF7F7F" points="178.0,118.1 203.5,109.0 205.3,118.1 192.6,127.2 178.0,127.2"/>
<polygon fill="#3F8A1A" points="116.1,70.8 159.8,76.2 196.2,85.3 232.6,85.3 236.3,92.6 214.4,98.1 196.2,99.0 168.9,95.4 152.5,87.2 134.3,83.5 123.3,79.9"/>
<polygon fill="#D3FFBE" points="94.2,74.4 136.1,74.4 136.1,103.6 114.2,103.6"/>
<polygon fill="#A8A800" points="167.1,98.1 203.5,98.1 214.4,103.6 196.2,110.8 167.1,107.2"/>
<polygon fill="#F5CA7A" points="168.9,47.1 229.0,47.1 229.0,67.1 196.2,67.1 168.9,56.2"/>
</g>
<g filter="url(#rough)">
<polygon fill="#FF7F7F" points="133.7,86.1 141.6,84.6 152.5,86.1 157.9,89.0 165.2,92.6 172.2,98.1 178.0,103.6 182.7,108.5 185.3,110.3 181.6,114.5 175.3,115.8 170.7,113.6 167.1,111.6 161.6,105.4 156.1,101.0 150.7,97.2 143.4,94.8 137.9,93.2 134.3,89.9"/>
<polygon fill="#E1E1E1" points="205.3,30.7 323.7,30.7 323.7,56.2 305.5,58.0 287.3,60.8 272.7,65.3 265.4,76.2 258.1,74.4 252.7,69.9 248.1,63.5 250.8,58.0 245.4,54.4 241.7,48.9 234.4,45.6 218.1,45.3 205.3,41.6"/>
<polygon fill="#D3FFBE" points="244.5,63.5 249.0,63.5 250.8,58.9 247.2,57.1 242.6,59.9"/>
<polygon fill="#38A800" points="199.8,169.1 203.5,170.0 206.2,176.4 212.6,177.3 219.0,173.7 225.3,172.8 229.9,168.2 236.3,170.0 247.2,173.7 250.8,181.0 254.5,185.5 259.0,188.3 257.2,192.8 252.7,198.3 249.9,204.6 245.4,208.3 239.9,210.1 237.2,214.7 234.4,218.3 229.0,217.4 225.3,216.1 221.7,213.8 214.4,209.2 208.9,204.6 203.5,198.3 198.9,193.7 197.1,187.3 198.0,181.9 200.7,176.4"/>
<polygon fill="#D3FFBE" points="229.0,175.5 233.5,174.6 234.4,179.1 229.9,179.1"/>
<polygon fill="#CDCD66" points="221.7,205.6 226.2,205.6 227.2,211.0 221.7,211.0"/>
<polygon fill="#F5CA7A" points="193.5,191.9 197.1,194.6 202.6,204.6 208.9,211.9 214.4,214.7 216.2,217.4 218.1,223.8 219.0,232.0 216.2,237.4 211.1,238.3 213.3,220.1 202.6,209.2 197.1,199.2"/>
<polygon fill="#F5F57A" points="212.6,210.1 217.1,211.9 221.7,219.2 222.6,225.6 220.8,232.9 218.1,232.9 218.1,223.8 216.2,217.4 214.4,214.7"/>
<polygon fill="#D3FFBE" points="198.9,194.6 202.6,196.4 208.9,206.5 213.5,210.1 209.9,211.9 203.5,204.6"/>
<polygon fill="#F5F57A" points="265.4,192.8 272.7,191.9 276.3,194.6 275.4,201.9 270.9,206.5 266.3,205.6"/>
<polygon fill="#A3FF73" points="260.9,189.2 266.3,189.2 266.3,194.6 260.9,194.6"/>
<polygon fill="#A3FF73" points="267.2,208.3 270.9,208.3 270.0,218.3 266.3,223.8 261.8,225.6 253.9,229.2 252.7,232.9 249.9,232.0 254.5,226.5 261.8,222.9 266.3,218.3"/>
</g>
<g filter="url(#spA)">
<polygon fill="#38A800" points="266.3,208.3 271.8,208.3 270.9,218.3 267.2,224.7 261.8,226.5 253.9,230.1 252.7,233.8 249.0,232.0 253.6,225.6 261.8,221.9 265.4,218.3"/>
</g>
<g filter="url(#rough)">
<polygon fill="#FF7F7F" points="246.3,221.0 253.6,220.1 255.4,224.7 250.8,227.4 244.5,226.5"/>
<polygon fill="#FF7F7F" points="239.9,233.8 246.3,232.9 247.2,237.4 241.7,238.3"/>
<polygon fill="#A3FF73" points="235.4,218.3 239.9,219.2 240.8,229.2 236.3,232.9 233.5,227.4"/>
<polygon fill="#FF7F7F" points="225.3,240.2 231.7,240.2 234.4,244.7 233.5,250.2 228.1,251.1 224.4,247.4 224.4,243.8"/>
<polygon fill="#F5F57A" points="215.3,242.0 221.7,242.9 223.5,249.3 226.2,255.6 223.5,261.1 220.8,269.3 216.2,276.6 211.7,277.5 212.0,263.8 213.9,252.9"/>
<polygon fill="#F5CA7A" points="216.2,263.8 219.9,265.7 219.0,272.0 214.4,272.9"/>
<polygon fill="#73FFDF" points="207.1,252.0 211.7,252.0 211.7,263.8 209.9,276.6 214.4,283.0 205.3,281.1 203.5,269.3"/>
</g>
<g filter="url(#spA)">
<polygon fill="#CDCD66" points="232.6,205.6 250.8,198.3 261.8,189.2 269.0,194.6 269.0,209.2 263.6,218.3 254.5,221.9 245.4,225.6 236.3,223.8 232.6,214.7"/>
</g>
<g filter="url(#spB)">
<polygon fill="#A3FF73" points="232.6,205.6 258.1,192.8 269.0,201.9 261.8,220.1 239.9,223.8"/>
</g>
<g filter="url(#spA)">
<polygon fill="#CDCD66" points="207.1,165.5 230.8,164.6 232.6,171.0 227.2,174.6 210.8,173.7"/>
</g>
<g filter="url(#spB)">
<polygon fill="#F5F57A" points="207.1,163.7 229.0,163.7 229.0,169.1 207.1,169.1"/>
</g>
<g filter="url(#spA)">
<polygon fill="#A8A800" points="225.3,215.6 235.4,216.5 236.3,225.6 230.8,232.9 224.4,234.7"/>
</g>
<g filter="url(#spB)">
<polygon fill="#CDCD66" points="221.7,214.7 239.9,214.7 241.7,234.7 225.3,238.3"/>
</g>
<g filter="url(#spC)">
<polygon fill="#FF7F7F" points="236.3,216.5 258.1,212.8 258.1,231.1 236.3,242.0"/>
<polygon fill="#F5F57A" points="210.8,238.3 239.9,238.3 232.6,256.6 210.8,256.6"/>
</g>
<g filter="url(#spB)">
<polygon fill="#D3FFBE" points="210.8,252.9 229.0,252.9 221.7,278.4 207.1,278.4"/>
</g>
<g filter="url(#rough)">
<polygon fill="#F5CA7A" points="310.0,134.5 318.2,132.7 324.6,130.0 331.0,125.4 338.3,123.6 345.5,122.7 352.8,121.2 358.3,122.7 361.0,120.9 363.8,121.8 378.3,121.8 396.5,123.6 402.0,125.4 405.6,129.1 407.5,140.0 412.0,150.0 409.3,152.7 402.0,154.9 392.9,154.6 382.0,155.5 371.0,154.9 360.1,154.2 349.2,153.1 338.3,152.4 327.3,152.4 316.4,151.8 309.1,150.9"/>
<polygon fill="#D3FFBE" points="380.1,122.7 384.7,123.6 383.8,125.8 379.2,125.8"/>
<polygon fill="#FF7F7F" points="397.1,125.8 400.2,126.1 399.8,128.7 399.1,136.3 401.1,140.0 398.4,136.3 397.6,128.7"/>
<polygon fill="#FF7F7F" points="329.2,121.8 338.3,119.0 347.4,116.7 359.2,115.4 361.0,118.1 352.8,119.0 343.7,120.0 336.4,122.7 327.3,125.4 324.6,124.5"/>
<polygon fill="#FF7F7F" points="311.8,156.4 315.5,156.4 316.4,159.1 311.8,159.1"/>
<polygon fill="#FF7F7F" points="345.5,159.1 356.5,159.1 365.6,160.9 363.8,164.6 354.6,165.5 347.4,163.7"/>
<polygon fill="#FF7F7F" points="334.6,159.1 341.9,159.1 341.9,162.8 334.6,162.8"/>
<polygon fill="#FF7F7F" points="402.0,157.3 407.5,158.2 407.5,161.8 402.0,160.9"/>
<polygon fill="#A3FF73" points="356.5,171.9 369.2,172.8 382.0,173.1 392.9,174.0 398.4,180.1 397.4,189.2 393.8,194.6 382.0,195.5 371.0,194.6 364.7,194.6 361.9,190.1 358.3,183.7 359.2,177.3"/>
<polygon fill="#38A800" points="321.9,170.0 326.4,170.0 329.2,173.7 326.4,175.5 321.9,171.9"/>
<polygon fill="#FF7F7F" points="329.2,171.0 336.4,170.0 337.3,173.1 330.1,174.0"/>
<polygon fill="#38A800" points="358.3,174.0 363.8,173.1 367.4,175.5 372.9,175.5 376.5,172.8 380.1,172.2 383.8,175.3 391.1,176.8 395.6,180.1 394.7,188.3 390.2,191.9 382.0,192.8 374.7,190.1 368.3,192.4 363.8,191.0 361.0,188.3 358.3,184.6 359.4,179.1"/>
<polygon fill="#FF7F7F" points="349.2,169.1 356.5,169.1 357.4,172.8 351.0,172.8"/>
<polygon fill="#CDCD66" points="364.7,194.6 374.7,194.6 385.6,195.5 396.5,196.4 403.8,198.3 411.1,199.2 414.8,203.7 414.8,211.0 407.5,216.5 398.4,215.6 389.3,215.6 380.1,214.7 371.0,213.8 363.8,211.9 366.5,203.7"/>
<polygon fill="#A3FF73" points="369.2,199.2 385.6,200.1 392.9,203.7 391.1,209.2 378.3,209.2 371.0,206.5"/>
<polygon fill="#FF7F7F" points="402.0,207.4 406.6,207.4 406.6,212.8 402.9,211.9"/>
<polygon fill="#F5F57A" points="414.8,161.8 422.0,163.7 435.7,161.5 433.0,170.0 425.7,179.1 418.4,186.4 414.8,189.2 412.0,183.7 409.3,176.4 414.8,172.8 418.4,167.3"/>
<polygon fill="#F5CA7A" points="418.4,160.9 422.9,163.7 427.5,162.8 435.7,161.5 432.1,167.3 425.7,167.7 420.2,164.6"/>
<polygon fill="#CDCD66" points="405.6,167.3 412.9,167.3 414.8,172.8 409.3,176.4 405.6,174.6"/>
<polygon fill="#FF7F7F" points="408.4,158.2 413.8,158.2 414.8,165.5 410.2,171.0 407.5,167.3"/>
<polygon fill="#F5F57A" points="362.8,212.8 367.4,214.7 375.6,218.3 382.0,221.9 386.5,227.4 385.6,234.7 380.1,240.2 375.6,244.7 372.9,240.2 370.1,232.9 367.4,223.8 363.8,216.5"/>
<polygon fill="#F5CA7A" points="362.8,211.9 365.6,214.7 368.9,223.8 370.7,232.9 372.5,236.5 369.2,233.8 367.4,225.6 362.8,216.5"/>
<polygon fill="#CDCD66" points="368.3,215.6 376.5,215.6 377.4,220.1 370.1,219.2"/>
<polygon fill="#FF7F7F" points="387.4,232.0 396.5,231.1 396.5,235.6 389.3,236.5"/>
<polygon fill="#ABCD66" points="374.7,242.9 382.0,242.9 387.4,244.7 382.0,246.5 375.2,246.5"/>
<polygon fill="#CDCD66" points="397.4,223.8 406.6,221.9 406.6,228.3 401.6,231.1 398.4,229.2"/>
</g>
<g filter="url(#spA)">
<polygon fill="#CDCD66" points="310.9,160.9 331.0,161.8 352.8,163.7 374.7,165.5 396.5,165.5 407.5,164.6 407.5,172.8 396.5,175.5 378.3,173.7 360.1,171.9 345.5,170.0 327.3,169.1 316.4,167.3"/>
</g>
<g filter="url(#spB)">
<polygon fill="#A3FF73" points="316.4,165.5 360.1,169.1 396.5,171.0 400.2,178.2 360.1,174.6 320.0,171.0"/>
</g>
<g filter="url(#spC)">
<polygon fill="#FF7F7F" points="323.7,158.2 371.0,158.2 407.5,156.4 414.8,169.1 367.4,167.3 323.7,165.5"/>
</g>
<g filter="url(#spA)">
<polygon fill="#CDCD66" points="394.7,180.1 407.5,176.4 414.8,189.2 411.1,198.3 396.5,194.6"/>
</g>
<g filter="url(#spB)">
<polygon fill="#F5F57A" points="402.0,174.6 418.4,176.4 416.6,191.0 407.5,194.6 402.0,187.3"/>
</g>
<g filter="url(#spA)">
<polygon fill="#D3FFBE" points="411.1,161.8 436.6,161.8 422.0,183.7 411.1,187.3"/>
</g>
<g filter="url(#spB)">
<polygon fill="#D3FFBE" points="363.8,194.6 414.8,198.3 414.8,216.5 363.8,214.7"/>
</g>
<g filter="url(#spC)">
<polygon fill="#A3FF73" points="363.8,194.6 414.8,198.3 414.8,216.5 363.8,214.7"/>
<polygon fill="#F5F57A" points="310.9,151.8 411.1,151.8 407.5,160.0 310.9,159.1"/>
</g>
<g filter="url(#spB)">
<polygon fill="#CDCD66" points="385.6,214.7 407.5,214.7 403.8,231.1 392.9,238.3 385.6,234.7"/>
</g>
<g filter="url(#rough)">
<polygon fill="#CDCD66" points="422.0,212.8 430.2,209.2 431.1,216.5 425.7,227.4 421.1,225.6"/>
<polygon fill="#38A800" points="432.1,208.3 433.9,211.9 432.1,216.5 428.4,228.3 427.1,228.3 430.2,218.3 430.8,211.0"/>
<polygon fill="#FF7F7F" points="324.6,111.8 331.0,107.2 340.1,104.5 343.7,99.9 339.2,98.1 333.7,96.6 333.7,95.0 341.9,93.0 347.4,90.8 356.5,86.3 363.8,84.4 374.7,83.9 385.6,81.7 396.5,80.8 411.1,80.8 425.7,79.9 436.6,80.8 447.5,81.7 456.6,81.7 462.1,83.5 473.0,82.6 487.6,83.5 496.7,85.3 498.5,88.1 487.6,87.2 473.0,85.7 462.1,86.6 451.2,87.2 442.1,89.0 433.0,90.8 425.7,94.5 418.4,98.1 412.9,97.2 405.6,99.0 396.5,99.0 393.8,103.6 392.0,106.3 385.6,108.1 382.0,109.0 378.3,107.2 374.7,104.5 367.4,100.8 364.7,102.7 371.0,108.1 370.1,110.8 364.7,108.1 361.0,104.5 354.6,103.6 347.4,105.0 341.0,111.8 337.3,116.3 331.0,117.2"/>
<polygon fill="#F5F57A" points="329.2,111.8 335.5,110.8 339.2,113.6 336.4,115.9 331.0,114.9"/>
<polygon fill="#D3FFBE" points="326.4,104.5 338.3,104.8 337.3,107.2 326.4,107.2"/>
<polygon fill="#CDCD66" points="326.4,110.8 331.9,109.9 331.9,114.5 326.4,115.4"/>
<polygon fill="#A3FF73" points="351.9,95.4 358.3,94.5 365.6,91.7 372.9,92.6 378.3,93.5 385.6,94.5 389.3,97.2 388.3,100.8 382.9,101.7 381.1,105.4 376.5,106.3 372.0,102.7 367.4,99.6 361.0,99.9 354.6,101.7 351.9,99.0"/>
<polygon fill="#D3FFBE" points="353.7,99.0 360.1,98.1 366.5,98.1 365.6,99.9 356.5,100.8"/>
<polygon fill="#FF7F7F" points="372.9,96.3 381.1,96.3 382.9,99.9 376.5,101.7 372.0,99.0"/>
<polygon fill="#73FFDF" points="374.7,85.3 383.8,84.4 391.1,85.3 396.5,88.1 387.4,89.0 378.3,88.1"/>
<polygon fill="#D3FFBE" points="322.8,82.6 331.9,82.6 331.9,89.9 322.8,89.9"/>
<polygon fill="#D3FFBE" points="331.0,76.2 338.3,76.2 337.3,83.5 336.4,88.1 331.9,89.9 331.0,92.6 336.4,92.6 335.5,89.9 331.9,87.2"/>
<polygon fill="#FF7F7F" points="337.3,84.4 342.8,86.3 345.5,88.1 344.6,90.8 338.3,91.7 336.4,89.0"/>
<polygon fill="#F5F57A" points="330.1,77.2 335.5,77.2 334.6,80.8 331.0,80.8"/>
<polygon fill="#F5F57A" points="297.3,62.4 318.2,62.4 318.2,68.6 297.3,68.6"/>
<polygon fill="#E1E1E1" points="307.3,65.3 312.8,65.3 313.7,67.1 308.2,67.1"/>
<polygon fill="#D3FFBE" points="300.0,66.2 306.4,66.2 306.4,68.0 300.0,67.5"/>
</g>
<g filter="url(#spA)">
<polygon fill="#D3FFBE" points="331.0,90.8 356.5,85.3 371.0,89.0 360.1,98.1 349.2,105.4 338.3,104.5"/>
</g>
<g filter="url(#spB)">
<polygon fill="#CDCD66" points="323.7,103.6 338.3,103.6 345.5,110.8 338.3,117.2 323.7,117.2"/>
<polygon fill="#73FFDF" points="341.9,92.6 371.0,85.3 396.5,81.7 414.8,85.3 396.5,92.6 389.3,103.6 367.4,103.6 349.2,101.7"/>
<polygon fill="#A3FF73" points="360.1,98.1 396.5,96.3 396.5,110.8 378.3,114.5 363.8,107.2"/>
</g>
<g filter="url(#spC)">
<polygon fill="#D3FFBE" points="389.3,81.7 451.2,81.7 494.9,83.5 494.9,90.8 433.0,96.3 392.9,101.7"/>
</g>
<g filter="url(#rough)">
<polygon fill="#F5F57A" points="350.1,70.8 354.6,70.8 358.3,72.6 361.9,69.0 368.3,63.5 374.7,59.9 382.0,58.0 391.1,57.1 400.2,57.1 400.2,52.6 378.3,54.4 365.6,59.9 354.6,68.0"/>
<polygon fill="#A3FF73" points="358.3,76.2 361.9,72.6 364.7,68.0 370.1,63.5 376.5,59.9 383.8,58.9 392.9,58.0 397.4,58.9 396.5,63.5 396.5,70.8 399.3,72.6 394.7,73.5 387.4,73.5 383.8,72.6 381.1,69.0 382.9,64.4 380.1,64.4 375.6,68.0 372.9,72.6 373.8,75.3 371.0,78.1 367.4,79.0 364.7,78.1"/>
<polygon fill="#A3FF73" points="352.8,78.1 358.3,78.1 363.8,76.2 365.6,72.6 361.9,72.6 358.3,74.4 352.8,73.5"/>
<polygon fill="#73FFDF" points="364.7,79.0 371.0,78.4 372.9,76.2 369.2,73.5 365.6,75.3"/>
<polygon fill="#FF7F7F" points="365.0,81.2 368.3,81.2 367.9,83.0 365.2,83.0"/>
<polygon fill="#F5F57A" points="402.0,56.2 418.4,59.9 433.0,58.0 451.2,55.3 462.1,57.1 473.0,60.8 484.0,59.9 498.5,58.0 514.9,58.0 524.0,59.9 533.1,62.6 545.9,63.5 560.5,65.3 575.0,66.2 586.0,68.0 593.2,71.7 598.7,76.2 607.8,77.2 618.7,77.2 626.0,75.3 633.3,75.3 642.4,76.2 651.5,76.2 669.7,74.4 669.7,48.9 596.9,48.9 542.2,40.7 524.0,41.6 487.6,48.0 465.7,48.9 433.0,56.2"/>
<polygon fill="#CDCD66" points="545.9,55.3 560.5,55.7 575.0,57.1 586.0,60.8 582.3,65.3 567.7,65.7 553.2,64.4 542.2,60.8"/>
<polygon fill="#A3FF73" points="396.5,58.9 414.8,60.8 433.0,59.9 451.2,59.3 462.1,61.1 473.0,62.6 484.0,61.3 498.5,59.9 514.9,59.9 524.0,61.7 533.1,64.4 545.9,65.3 560.5,67.1 575.0,68.0 586.0,69.0 596.9,69.9 611.5,71.7 618.7,74.4 615.1,75.9 600.5,75.9 593.2,79.0 591.4,83.5 586.0,88.1 575.0,88.1 564.1,87.2 553.2,87.2 542.2,85.3 531.3,83.5 520.4,81.7 509.5,79.9 498.5,79.0 484.0,77.2 473.0,75.3 462.1,73.5 451.2,73.0 440.3,71.7 429.3,70.8 418.4,69.9 407.5,69.9 396.5,69.9"/>
<polygon fill="#73FFDF" points="378.3,77.2 385.6,74.8 394.7,73.5 396.5,69.9 407.5,69.9 418.4,69.9 429.3,70.8 440.3,71.7 451.2,73.0 462.1,73.5 473.0,75.3 484.0,77.2 498.5,79.0 509.5,79.9 520.4,81.7 531.3,83.5 542.2,85.3 549.5,88.1 538.6,90.8 527.7,90.8 516.7,89.9 505.8,87.2 498.5,84.4 484.0,83.0 473.0,82.1 462.1,83.0 454.8,81.7 447.5,81.7 436.6,81.2 425.7,80.8 411.1,81.2 396.5,81.2 385.6,81.7 380.1,80.8"/>
<polygon fill="#894444" points="456.6,69.0 463.9,69.0 469.4,72.6 476.7,72.6 484.0,74.4 482.1,77.2 473.0,76.2 465.7,73.5 458.5,71.7"/>
<polygon fill="#D3FFBE" points="422.0,90.8 433.0,91.7 442.1,89.9 451.2,88.1 462.1,87.5 473.0,86.8 487.6,88.6 498.5,89.0 502.2,94.5 494.9,99.9 484.0,103.6 473.0,104.5 462.1,103.6 451.2,99.9 443.9,99.0 436.6,97.2 427.5,98.1 422.0,98.1"/>
<polygon fill="#D3FFBE" points="409.3,98.1 422.0,97.2 427.5,100.8 429.3,105.4 422.0,106.3 414.8,103.6 409.3,100.8"/>
<polygon fill="#F5CA7A" points="434.8,100.8 442.1,99.0 447.5,100.8 451.2,104.5 458.5,104.5 465.7,104.5 467.6,109.0 464.8,114.5 458.5,117.2 451.2,117.2 443.9,115.4 439.3,113.6 440.3,108.1 437.5,105.4"/>
<polygon fill="#FF7F7F" points="452.1,105.4 454.8,107.2 463.9,113.6 469.4,109.9 473.9,109.0 473.0,106.3 465.7,106.3 458.5,108.1"/>
<polygon fill="#F5F57A" points="454.8,98.1 465.7,97.2 476.7,98.1 480.3,101.7 469.4,103.6 458.5,102.7"/>
<polygon fill="#D3FFBE" points="520.4,85.3 531.3,87.2 542.2,89.9 553.2,91.7 560.5,92.6 560.5,98.1 549.5,99.9 538.6,99.9 527.7,98.1 516.7,96.3 505.8,93.5 505.8,89.0"/>
<polygon fill="#A3FF73" points="575.0,89.0 586.0,89.0 595.1,90.8 597.8,96.3 594.2,99.9 588.7,103.6 583.2,105.4 579.6,105.4 579.6,99.9 575.0,95.4 569.6,91.7"/>
</g>
<g filter="url(#spA)">
<polygon fill="#A8A800" points="575.0,89.0 586.0,89.0 595.1,90.8 597.8,96.3 594.2,99.9 588.7,103.6 583.2,105.4 579.6,105.4 579.6,99.9 575.0,95.4 569.6,91.7"/>
</g>
<g filter="url(#rough)">
<polygon fill="#A3FF73" points="626.9,80.8 631.5,79.9 634.2,82.6 631.5,86.3 627.8,88.1 626.9,84.4"/>
<polygon fill="#F5F57A" points="624.2,74.4 642.4,70.8 640.6,79.9 633.3,83.5 629.7,79.9 626.0,79.9"/>
<polygon fill="#D3FFBE" points="629.7,74.4 637.0,72.6 640.6,74.4 635.1,78.1"/>
</g>
<g filter="url(#spB)">
<polygon fill="#3F8A1A" points="351.0,76.2 363.8,67.1 378.3,58.0 396.5,58.0 400.2,72.6 385.6,74.4 382.0,65.3 372.9,74.4 369.2,79.9 360.1,78.1"/>
<polygon fill="#4C9628" points="396.5,63.5 422.0,63.5 447.5,64.4 465.7,65.3 484.0,68.0 502.2,70.8 513.1,74.4 505.8,77.2 487.6,74.4 469.4,71.7 447.5,70.8 422.0,69.9 396.5,69.9"/>
</g>
<g filter="url(#spC)">
<polygon fill="#4C9628" points="378.3,69.0 451.2,70.8 509.5,78.1 545.9,87.2 538.6,92.6 494.9,85.3 451.2,79.9 411.1,79.9 382.0,81.7"/>
</g>
<g filter="url(#spA)">
<polygon fill="#73FFDF" points="505.8,67.1 578.7,70.8 596.9,81.7 578.7,92.6 542.2,85.3 505.8,79.9"/>
</g>
<g filter="url(#spB)">
<polygon fill="#F5F57A" points="502.2,60.8 615.1,70.8 615.1,78.1 560.5,70.8 502.2,65.3"/>
</g>
<g filter="url(#spC)">
<polygon fill="#267300" points="494.9,79.9 560.5,83.5 560.5,92.6 494.9,92.6"/>
<polygon fill="#894444" points="451.2,63.5 487.6,63.5 494.9,79.9 454.8,79.9"/>
</g>
<g filter="url(#spA)">
<polygon fill="#D3FFBE" points="524.0,45.3 669.7,52.6 669.7,70.8 596.9,63.5 524.0,56.2"/>
</g>
<g filter="url(#spC)">
<polygon fill="#FF7F7F" points="494.9,79.9 516.7,79.9 516.7,89.0 494.9,89.0"/>
</g>
<g filter="url(#rough)">
<polygon fill="#F5CA7A" points="474.9,111.8 478.5,108.1 485.8,104.5 491.2,100.8 498.5,99.4 505.8,100.3 511.3,102.7 516.7,104.5 524.0,105.4 535.0,104.5 542.2,105.4 544.1,109.0 540.4,112.7 535.0,114.5 529.5,116.3 525.9,119.0 520.4,121.8 513.1,123.1 505.8,123.6 498.5,124.0 491.2,123.6 485.8,122.7 480.3,120.0 476.7,117.2"/>
<polygon fill="#D3FFBE" points="487.6,127.2 498.5,128.2 509.5,128.2 520.4,127.2 527.7,123.6 524.0,120.9 513.1,124.5 502.2,126.0 491.2,125.4"/>
<polygon fill="#F5F57A" points="538.6,104.5 545.9,103.6 549.5,106.3 544.1,109.0 538.6,109.0"/>
<polygon fill="#FF7F7F" points="560.5,96.3 567.7,94.5 575.0,95.4 582.3,97.2 580.5,101.7 575.0,104.5 567.7,107.2 562.3,108.1 558.6,107.2 562.3,103.6 559.5,99.9"/>
<polygon fill="#FF7F7F" points="547.7,109.0 553.2,109.9 556.8,111.8 560.5,115.4 562.3,117.2 560.5,121.8 562.3,125.4 558.6,128.2 553.2,129.1 547.7,129.1 544.1,125.4 545.0,120.9 542.2,120.0 539.5,121.8 536.8,120.9 540.4,118.1 544.1,115.4"/>
<polygon fill="#FF7F7F" points="530.4,126.3 536.8,126.3 537.7,130.9 532.2,131.8"/>
<polygon fill="#73FFDF" points="553.2,106.3 558.6,106.3 557.7,109.9 552.3,109.4"/>
<polygon fill="#73FFDF" points="533.1,121.8 542.2,121.8 545.0,125.4 542.2,129.1 537.7,125.8 533.1,124.5"/>
<polygon fill="#A3FF73" points="538.6,130.9 559.5,129.1 563.2,132.7 558.6,138.2 554.1,141.8 545.9,144.0 538.6,144.0 535.0,142.7 531.3,141.8 525.9,143.6 522.2,143.6 521.3,138.2 524.0,133.6 531.3,131.8"/>
<polygon fill="#38A800" points="539.5,137.3 549.5,136.3 553.2,139.1 545.9,141.8 538.6,141.8"/>
<polygon fill="#FF7F7F" points="542.2,140.9 549.5,140.9 547.7,144.0 541.3,144.5"/>
<polygon fill="#A8A800" points="568.7,109.9 575.9,108.1 577.4,114.5 575.9,119.0 572.3,120.0 573.2,114.5 570.5,111.8"/>
<polygon fill="#FF7F7F" points="569.6,111.8 572.3,114.5 572.7,120.0 572.1,116.3"/>
<polygon fill="#267300" points="520.4,127.2 527.7,127.2 527.7,134.5 522.2,134.5"/>
</g>
<g filter="url(#spC)">
<polygon fill="#73FFDF" points="531.3,129.1 564.1,127.2 560.5,141.8 531.3,143.6"/>
</g>
<g filter="url(#spB)">
<polygon fill="#FF7F7F" points="531.3,129.1 564.1,127.2 560.5,143.6 531.3,143.6"/>
</g>
<g filter="url(#spC)">
<polygon fill="#CDCD66" points="524.0,129.1 560.5,129.1 556.8,143.6 524.0,145.5"/>
</g>
<g filter="url(#rough)">
<polygon fill="#73FFDF" points="577.8,121.8 587.8,118.1 596.9,108.1 606.9,102.7 607.8,106.3 600.5,114.5 598.7,120.0 589.6,123.6 578.7,127.6"/>
<polygon fill="#A8A800" points="591.4,116.3 598.7,111.8 600.2,114.5 594.2,119.0"/>
<polygon fill="#FF7F7F" points="595.1,117.2 598.3,117.2 597.8,119.4 595.1,119.4"/>
<polygon fill="#A3FF73" points="599.6,84.4 605.1,84.4 605.1,99.9 599.6,99.9"/>
<polygon fill="#F5CA7A" points="403.8,125.4 408.4,120.9 412.0,117.6 418.4,117.6 422.0,120.0 425.7,119.0 429.3,117.2 436.6,117.8 443.9,116.3 451.2,116.3 458.5,116.3 463.9,116.3 469.4,120.0 470.3,127.2 467.6,132.7 471.2,135.4 471.2,139.1 465.7,141.8 462.1,140.0 451.2,140.0 445.7,138.2 445.7,133.6 442.1,134.5 434.8,132.7 431.1,128.2 428.4,129.1 429.3,132.7 433.0,138.2 436.6,141.8 443.9,145.5 454.8,142.7 454.8,154.6 442.1,158.2 429.3,164.6 420.2,164.6 414.8,154.6 408.4,145.5 405.6,138.2 402.9,133.6"/>
<polygon fill="#D3FFBE" points="389.3,108.1 396.5,108.1 407.5,107.6 418.4,108.1 422.0,110.8 423.9,114.5 422.0,117.2 414.8,116.7 407.5,117.6 396.5,117.6 391.1,116.3"/>
<polygon fill="#FF7F7F" points="391.1,111.8 396.5,110.8 402.9,111.8 404.7,115.4 409.3,116.3 413.8,115.4 412.9,113.6 402.0,109.9 394.7,109.4"/>
<polygon fill="#73FFDF" points="398.4,107.2 407.5,107.2 417.5,107.6 416.6,109.4 407.5,109.0 398.4,109.0"/>
<polygon fill="#D3FFBE" points="422.9,111.8 429.3,110.8 431.1,114.5 427.5,118.1 425.7,121.8 422.9,118.1"/>
<polygon fill="#73FFDF" points="430.6,113.6 433.0,115.9 440.3,116.7 440.3,117.8 433.0,117.2 430.2,114.9"/>
<polygon fill="#FF7F7F" points="405.6,116.3 411.1,116.3 422.0,116.7 425.7,121.8 428.4,126.3 425.7,126.3 421.1,120.9 414.8,118.1 407.5,118.1 407.1,123.6 404.7,126.7 406.6,121.8"/>
<polygon fill="#F5F57A" points="420.2,152.7 422.9,153.6 423.9,158.6 421.7,159.1 420.2,156.4"/>
<polygon fill="#F5F57A" points="454.8,120.0 462.1,118.1 467.6,119.0 465.7,123.6 458.5,125.4 453.0,124.5"/>
</g>
<g filter="url(#spB)">
<polygon fill="#F5F57A" points="425.7,120.0 433.0,119.0 440.3,122.7 443.9,129.1 438.4,131.8 433.0,127.2 428.4,123.6"/>
</g>
<g filter="url(#rough)">
<polygon fill="#D3FFBE" points="462.1,116.3 471.2,114.5 476.7,117.2 473.0,120.9 465.7,120.0"/>
<polygon fill="#FF7F7F" points="464.8,138.2 468.5,138.5 471.2,132.7 473.0,128.2 474.9,124.5 473.0,121.8 470.3,125.4 468.5,131.8"/>
<polygon fill="#FF7F7F" points="473.0,121.8 478.5,123.6 483.1,127.2 485.8,130.9 493.1,133.6 500.4,134.9 504.0,135.4 504.9,139.1 509.5,139.1 507.6,142.7 503.1,144.0 499.4,146.4 494.9,150.0 490.3,153.6 488.0,156.4 487.6,161.8 486.7,165.5 484.0,168.2 482.1,167.3 480.3,161.8 478.5,156.4 476.7,151.8 474.9,146.4 471.2,145.5 469.4,141.8 472.1,138.2 472.1,133.6 473.9,128.2"/>
<polygon fill="#F5CA7A" points="468.5,132.7 473.9,131.8 474.9,137.3 470.3,139.1"/>
<polygon fill="#A3FF73" points="475.8,152.7 478.5,152.7 481.2,160.9 483.1,168.2 481.8,168.2 478.9,161.8"/>
<polygon fill="#73FFDF" points="476.7,120.9 484.0,123.6 491.2,129.1 498.5,132.7 509.5,133.1 516.7,131.8 518.6,133.6 509.5,134.9 498.5,134.5 491.2,131.8 484.0,128.2 478.5,124.5"/>
<polygon fill="#38A800" points="508.5,134.5 516.7,132.2 519.5,136.3 516.7,140.9 513.1,144.5 510.4,142.7 511.3,139.1 507.6,137.3"/>
<polygon fill="#38A800" points="488.2,169.5 490.3,170.0 489.4,172.4 488.0,172.4"/>
</g>
<g filter="url(#spB)">
<polygon fill="#A3FF73" points="480.3,140.0 502.2,138.2 498.5,150.9 487.6,160.0 480.3,154.6"/>
</g>
<g filter="url(#spC)">
<polygon fill="#F5F57A" points="422.0,118.1 451.2,116.3 465.7,129.1 451.2,136.3 433.0,129.1"/>
</g>
<g filter="url(#rough)">
<polygon fill="#38A800" points="516.7,134.5 522.2,134.5 524.0,140.9 527.7,144.5 532.2,146.4 535.0,149.1 538.6,154.6 540.4,160.0 538.6,163.7 535.9,162.8 535.0,158.2 533.1,154.6 529.5,150.0 526.8,150.0 524.0,153.6 522.2,159.1 523.1,164.6 525.9,171.9 530.4,176.4 531.3,181.0 527.7,180.1 524.9,174.6 521.3,168.2 521.3,161.8 519.5,153.6 516.7,152.7 514.0,151.8 513.1,147.3 516.7,141.8"/>
<polygon fill="#FF7F7F" points="514.9,142.7 517.7,142.7 517.7,151.8 514.9,154.6 514.0,150.9"/>
<polygon fill="#FF7F7F" points="523.1,151.8 526.8,150.9 532.2,150.9 534.0,156.4 531.3,160.0 526.8,160.0 524.0,158.6"/>
<polygon fill="#FF7F7F" points="532.2,161.8 535.9,162.8 536.8,164.6 533.1,167.7 532.8,165.5"/>
<polygon fill="#FF7F7F" points="534.0,144.5 536.8,144.5 536.8,147.3 534.0,148.2"/>
<polygon fill="#A3FF73" points="527.7,155.5 533.1,155.5 535.0,159.1 530.4,161.8 527.7,160.0"/>
</g>
<g filter="url(#spA)">
<polygon fill="#A3FF73" points="509.5,132.7 538.6,140.0 542.2,165.5 520.4,169.1 509.5,150.9"/>
</g>
<g filter="url(#rough)">
<polygon fill="#38A800" points="514.0,172.8 518.6,172.8 535.9,189.2 535.9,195.0 531.3,194.6 522.2,183.7 514.9,175.5"/>
<polygon fill="#FF7F7F" points="521.3,176.4 524.9,179.1 527.7,181.9 524.0,181.9 520.4,178.2"/>
<polygon fill="#FF7F7F" points="530.4,187.3 534.0,188.3 535.0,191.9 533.1,193.7 531.0,191.0"/>
<polygon fill="#38A800" points="539.5,179.1 547.7,176.4 553.2,170.0 559.5,173.7 556.8,181.9 555.0,190.1 549.5,191.9 542.2,190.1 539.5,184.6"/>
<polygon fill="#FF7F7F" points="540.4,181.9 543.2,181.5 542.8,184.6 540.4,184.6"/>
<polygon fill="#FF7F7F" points="533.1,194.3 544.1,195.2 551.0,197.4 551.0,200.1 538.6,198.6 533.1,196.8"/>
<polygon fill="#38A800" points="536.8,196.4 540.4,196.8 540.4,198.3 536.8,197.9"/>
<polygon fill="#38A800" points="557.7,180.1 570.5,180.1 567.7,194.6 558.6,194.6"/>
<polygon fill="#38A800" points="571.4,178.2 577.8,178.2 580.5,189.2 571.4,191.0"/>
<polygon fill="#38A800" points="578.7,183.7 587.8,184.2 598.7,187.3 607.8,191.9 617.8,201.9 611.5,203.7 602.3,200.1 596.9,200.1 594.2,198.3 592.3,192.8 584.1,191.9 579.6,186.4"/>
<polygon fill="#A3FF73" points="593.2,196.4 599.6,195.5 602.3,201.0 595.1,199.7"/>
<polygon fill="#38A800" points="611.5,192.8 620.6,190.6 620.6,195.5 612.4,196.1"/>
<polygon fill="#38A800" points="625.1,194.6 637.0,202.8 634.2,202.8 625.1,197.4"/>
<polygon fill="#38A800" points="559.5,149.1 565.9,149.1 565.0,154.6 569.6,160.0 571.4,160.9 573.2,172.8 569.6,174.6 563.2,171.9 565.0,167.3 558.6,165.5 555.0,169.1 560.5,161.8 559.5,156.4"/>
<polygon fill="#FF7F7F" points="560.8,151.8 562.6,151.8 562.8,156.4 561.0,156.4"/>
<polygon fill="#FF7F7F" points="564.6,162.8 566.8,162.8 566.8,165.5 564.6,165.5"/>
<polygon fill="#A3FF73" points="553.2,198.3 574.1,198.3 574.1,203.4 553.2,201.9"/>
<polygon fill="#38A800" points="561.4,137.3 564.5,137.6 562.8,143.1 561.7,143.1 561.9,140.0"/>
<polygon fill="#FF7F7F" points="560.3,139.1 561.7,139.1 561.5,142.7 560.5,142.2"/>
<polygon fill="#38A800" points="539.5,147.6 544.4,146.9 543.2,150.9 540.1,150.9"/>
<polygon fill="#F5F57A" points="545.9,220.1 564.1,213.8 573.2,211.0 580.5,210.1 587.8,211.0 595.1,214.7 600.5,217.4 607.8,221.9 611.5,229.2 612.4,238.3 608.7,245.6 600.5,251.1 591.4,251.1 586.0,245.6 576.8,243.8 567.7,248.4 558.6,246.5 553.2,242.0 550.4,232.9 545.9,231.1"/>
<polygon fill="#D3FFBE" points="564.1,215.6 569.6,209.2 573.2,208.3 578.7,204.6 584.1,203.7 591.4,205.6 588.7,211.0 595.1,214.7 598.7,211.9 599.6,206.5 601.4,202.8 604.2,209.2 606.0,213.8 602.3,218.3 595.1,216.5 587.8,212.8 580.5,211.9 573.2,212.8"/>
<polygon fill="#D3FFBE" points="599.6,202.8 603.3,202.8 606.9,211.0 608.7,218.3 614.2,223.8 616.9,227.4 621.5,231.1 622.4,240.2 616.9,246.5 616.0,252.0 608.7,255.6 600.5,254.7 596.9,252.0 602.3,250.2 607.8,248.4 610.5,242.0 611.5,234.7 609.6,228.3 606.0,221.9 603.3,216.5 601.4,209.2"/>
<polygon fill="#A3FF73" points="606.0,211.0 608.7,218.3 614.2,223.8 616.9,227.4 621.5,231.1 622.4,240.2 616.9,246.5 616.0,252.0 608.7,255.6 604.2,254.7 609.6,252.0 614.2,247.4 616.9,242.0 618.7,236.5 616.9,230.1 612.4,224.7 607.8,219.2 605.6,213.8"/>
<polygon fill="#D3FFBE" points="552.3,241.1 559.5,242.0 558.6,246.5 552.3,246.5"/>
<polygon fill="#FF7F7F" points="551.9,237.4 555.0,240.2 557.7,243.8 555.9,245.6 553.2,242.9 551.7,239.2"/>
<polygon fill="#38A800" points="605.1,257.5 608.7,258.4 612.4,258.4 612.4,263.5 606.9,263.5"/>
<polygon fill="#D3FFBE" points="609.3,258.7 612.0,258.7 611.5,261.7 609.6,261.7"/>
</g>
<g filter="url(#spA)">
<polygon fill="#CDCD66" points="564.1,215.6 569.6,207.4 580.5,203.7 591.4,204.6 601.4,202.8 606.9,213.8 602.3,218.3 595.1,216.5 587.8,212.8 580.5,211.9 573.2,212.8"/>
<polygon fill="#F5F57A" points="598.7,214.7 607.8,218.3 613.3,227.4 613.3,242.0 606.0,249.3 598.7,247.4 602.3,234.7"/>
</g>
<g filter="url(#spC)">
<polygon fill="#FF7F7F" points="595.1,243.8 609.6,242.0 614.2,236.5 615.1,249.3 600.5,253.8"/>
</g>
<g filter="url(#spB)">
<polygon fill="#38A800" points="606.9,212.8 609.3,213.8 609.6,218.3 620.6,231.1 622.0,240.2 616.9,247.4 615.1,252.9 607.8,255.3 613.3,250.2 617.8,240.2 616.0,231.1 607.8,220.1"/>
</g>
<g filter="url(#rough)">
<polygon fill="#F7DCA0" points="590.5,233.8 595.1,232.9 596.0,239.2 592.3,240.2"/>
<polygon fill="#D3FFBE" points="644.2,269.3 669.7,269.3 669.7,245.6 644.2,245.6"/>
</g>
<g filter="url(#spA)">
<polygon fill="#38A800" points="646.1,268.4 648.8,268.9 656.1,261.1 657.9,258.4 656.1,257.5 651.5,262.0 646.1,265.7"/>
<polygon fill="#38A800" points="655.2,245.6 667.9,251.1 665.7,260.2 655.2,256.6"/>
</g>
<g filter="url(#rough)">
<polygon fill="#EEF7D6" points="360.1,36.2 396.5,36.2 396.5,45.3 360.1,45.3"/>
<polygon fill="#E1E1E1" points="367.4,38.0 391.1,37.4 385.6,40.7 374.7,41.6 367.4,40.2"/>
<polygon fill="#EEF7D6" points="433.0,42.5 469.4,42.5 469.4,56.2 433.0,56.2"/>
<polygon fill="#E1E1E1" points="443.9,45.3 465.7,43.1 462.1,45.6 447.5,48.0"/>
<polygon fill="#EEF7D6" points="422.0,34.4 462.1,34.4 462.1,38.9 422.0,38.9"/>
<polygon fill="#EEF7D6" points="511.3,36.2 536.8,36.2 536.8,42.0 511.3,42.0"/>
<polygon fill="#F5F57A" points="587.8,44.4 618.7,44.4 618.7,48.6 587.8,48.6"/>
<polygon fill="#F5F57A" points="14.1,56.2 35.9,61.7 34.1,69.0 14.1,67.1"/>
</g>
<polygon fill="#E1E1E1" points="24,336.5 36,334 47.7,328.2 60,326.5 69.9,324 80,321 89.3,319.9 100,319.5 111.4,318.5 125,316.5 136.4,315.7 148,314.5 158.5,314.3 170,315.5 180.7,317.1 190,318.5 200,318.5 207,319 214,317 220,315 225,311.6 222.5,308 223.7,304.6 227,302 230.6,300.5 235,298.2 238.9,297.7 236,301 233.4,304.6 229.5,309 227.8,314.3 231,318.5 228,322 221,324 214,326 206,327.5 214,330 226,331.5 232,335 243,334 250,331 256,328 262,330 270,329.5 274,327.5 283,326.5 296,324.5 305,321.5 313,318.5 319,315.5 324,313.8 333,313 344,312.6 354.7,312.1 368,311.5 380,311.8 396,311.6 405,310.6 412.9,308.8 420,307.5 428,306 435,304.6 442,304.2 449,305 458,305.8 467.7,307.4 468,311 465,315.7 470,312.5 476,310 485,307.5 495.4,306 508,305 523,304.6 537,304.2 550.8,304.6 565,304.6 578.5,304.6 592,305.5 606,307.4 620,309.5 634,311.6 644,312.5 652,314.3 647,317 639.5,321.3 643,323.5 645,325.4 639,327.5 634,329.6 639,332.5 645,335 652,336 659.2,336.5 659.2,341.5 24,341.5"/>
</g>
<polygon fill="#73B2FF" points="392.9,108.1 392.4,105.9 394.0,104.5 394.2,102.7 396.0,101.2 397.4,99.6 400.2,99.0 402.9,99.9 401.5,100.8 402.9,102.7 405.6,102.1 408.4,101.4 406.0,99.6 410.2,98.1 413.3,97.7 411.1,99.9 410.2,101.7 412.0,103.0 414.8,105.0 417.7,107.2 417.5,108.1 413.8,109.0 411.1,109.0 408.4,108.5 405.6,107.2 402.9,107.2 399.3,108.7 395.6,108.7"/>
<polygon fill="#73B2FF" points="427.5,101.7 431.1,99.0 435.7,98.5 438.4,99.4 438.4,101.2 435.3,102.5 433.5,103.0 435.3,105.0 437.9,106.3 438.1,108.7 439.9,109.4 438.4,111.8 439.9,114.5 440.3,116.3 436.6,116.9 433.5,115.8 431.1,115.2 431.1,112.7 432.1,110.3 430.6,107.6 428.8,105.7 428.4,104.1 427.5,102.7"/>
<polygon fill="#73B2FF" points="448.4,99.0 453.0,99.0 453.9,101.7 450.3,104.1 448.1,102.7"/>
<polygon fill="#73B2FF" points="531.3,89.7 535.0,88.1 539.5,85.3 541.9,82.3 540.4,82.3 537.7,85.7 533.1,88.4"/>
<polygon fill="#73B2FF" points="475.8,101.2 478.5,98.5 482.1,98.6 485.8,98.8 484.9,99.6 481.2,99.6 478.1,100.5"/>
<polygon fill="#73B2FF" points="399.8,184.2 402.9,183.2 404.2,184.6 403.5,187.3 401.6,188.4 399.8,187.3"/>
<polygon fill="#73B2FF" points="395.3,190.1 396.2,191.9 397.4,196.4 398.4,199.2 397.3,198.8 395.6,194.6 394.9,191.9"/>
<polygon fill="#73B2FF" points="403.6,201.2 404.9,202.8 405.3,206.5 406.0,209.7 404.9,209.2 404.2,205.6 403.8,202.8"/>
<polygon fill="#73B2FF" points="174.3,98.5 178.9,96.3 183.4,95.0 187.1,96.5 187.8,98.8 184.4,99.0 181.6,98.1 178.0,98.6"/>
<polygon fill="#73B2FF" points="182.0,107.2 184.7,107.2 184.9,103.6 187.1,100.3 184.4,100.3 182.0,102.7 181.8,105.4"/>
<polygon fill="#73B2FF" points="187.8,99.9 192.6,99.9 196.2,101.7 195.8,102.7 193.5,102.1 193.1,104.8 191.6,105.2 189.8,103.6 190.0,101.4"/>
<polygon fill="#73B2FF" points="190.0,107.8 192.6,108.1 196.2,106.7 198.2,105.7 197.1,105.4 193.5,106.1 190.7,106.7"/>
<polygon fill="#73B2FF" points="196.6,104.8 199.8,104.8 202.9,104.3 202.9,103.2 199.8,103.6 197.1,103.9"/>
<polygon fill="#73B2FF" points="162.0,85.9 163.8,85.5 166.1,90.8 165.6,91.9 163.0,89.0"/>
<polygon fill="#73B2FF" points="116.1,62.6 121.5,61.7 127.0,62.0 126.1,64.4 121.5,65.3 117.9,64.8"/>
<polygon fill="#73B2FF" points="128.8,72.6 132.5,70.2 137.9,69.3 142.5,69.3 141.6,70.2 137.0,71.7 132.5,72.8"/>
<polygon fill="#73B2FF" points="138.8,76.8 143.4,75.3 148.8,75.5 144.3,76.2 141.6,77.0"/>
<polygon fill="#73B2FF" points="397.4,74.4 401.1,74.1 402.0,72.6 399.3,71.3 396.5,72.1"/>
<polygon fill="#73B2FF" points="404.7,72.6 408.0,72.1 406.6,69.9 404.7,70.2"/>
<polygon fill="#73B2FF" points="214.4,211.6 216.2,212.5 216.2,213.8 214.4,212.8"/>
</g>
<path d="M22.95 27.5 H660 M23.5 27 V342.4" stroke="#000" stroke-width="1.1" fill="none"/>
<path d="M659.25 27 V342.4 M22.95 341.65 H660" stroke="#000" stroke-width="1.55" fill="none"/>
<text transform="translate(68.7,19.7) scale(1,1.07)" font-size="13.5" text-anchor="middle">150°W</text>
<text transform="translate(68.7,359.7) scale(1,1.07)" font-size="13.5" text-anchor="middle">150°W</text>
<text transform="translate(205.3,19.7) scale(1,1.07)" font-size="13.5" text-anchor="middle">75°W</text>
<text transform="translate(205.3,359.7) scale(1,1.07)" font-size="13.5" text-anchor="middle">75°W</text>
<text transform="translate(341.9,19.7) scale(1,1.07)" font-size="13.5" text-anchor="middle">0°</text>
<text transform="translate(341.9,359.7) scale(1,1.07)" font-size="13.5" text-anchor="middle">0°</text>
<text transform="translate(478.5,19.7) scale(1,1.07)" font-size="13.5" text-anchor="middle">75°E</text>
<text transform="translate(478.5,359.7) scale(1,1.07)" font-size="13.5" text-anchor="middle">75°E</text>
<text transform="translate(615.1,19.7) scale(1,1.07)" font-size="13.5" text-anchor="middle">150°E</text>
<text transform="translate(615.1,359.7) scale(1,1.07)" font-size="13.5" text-anchor="middle">150°E</text>
<text transform="translate(15.2,101.7) rotate(-90) scale(1,1.07)" font-size="13.5" text-anchor="middle">45°N</text>
<text transform="translate(677.2,101.7) rotate(-90) scale(1,1.07)" font-size="13.5" text-anchor="middle">45°N</text>
<text transform="translate(15.2,183.7) rotate(-90) scale(1,1.07)" font-size="13.5" text-anchor="middle">0°</text>
<text transform="translate(677.2,183.7) rotate(-90) scale(1,1.07)" font-size="13.5" text-anchor="middle">0°</text>
<text transform="translate(15.2,265.7) rotate(-90) scale(1,1.07)" font-size="13.5" text-anchor="middle">45°S</text>
<text transform="translate(677.2,265.7) rotate(-90) scale(1,1.07)" font-size="13.5" text-anchor="middle">45°S</text>
<path d="M68.7 27.0 v-4.2 M68.7 341.5 v4.6 M205.3 27.0 v-4.2 M205.3 341.5 v4.6 M341.9 27.0 v-4.2 M341.9 341.5 v4.6 M478.5 27.0 v-4.2 M478.5 341.5 v4.6 M615.1 27.0 v-4.2 M615.1 341.5 v4.6 M23.5 101.7 h-4.5 M659.2 101.7 h4.5 M23.5 183.7 h-4.5 M659.2 183.7 h4.5 M23.5 265.7 h-4.5 M659.2 265.7 h4.5" stroke="#000" stroke-width="1.2" fill="none"/>
<g clip-path="url(#frame)">
<circle cx="73.0" cy="65.5" r="3.38" fill="#FF73DF"/>
<g transform="translate(55.8,55.5) scale(0.65)"><path d="M2 -4.6 l-3 3.6 l3.2 -0.6 l-2.6 4 l-1 1.6" stroke="#000" stroke-width="1.5" fill="none"/><path d="M2.4 -1.2 l-2.2 2.2" stroke="#000" stroke-width="1.2"/></g>
<g transform="translate(58.0,59.0) scale(0.65)"><path d="M2 -4.6 l-3 3.6 l3.2 -0.6 l-2.6 4 l-1 1.6" stroke="#000" stroke-width="1.5" fill="none"/><path d="M2.4 -1.2 l-2.2 2.2" stroke="#000" stroke-width="1.2"/></g>
<circle cx="151.0" cy="87.0" r="3.38" fill="#FF73DF"/>
<path d="M145.3 82.4 l6.69 6.38 M151.9 82.4 l-6.69 6.38" stroke="#000" stroke-width="0.98" fill="none"/>
<circle cx="162.5" cy="82.5" r="3.38" fill="#FF73DF"/>
<path d="M157.7 78.2 l6.69 6.38 M164.3 78.2 l-6.69 6.38" stroke="#000" stroke-width="0.98" fill="none"/>
<circle cx="120.4" cy="102.8" r="3.38" fill="#FF73DF"/>
<circle cx="125.0" cy="117.0" r="3.57" fill="#1E7BFA"/>
<circle cx="121.4" cy="113.4" r="3.61" fill="#000"/>
<circle cx="149.5" cy="110.0" r="3.38" fill="#FF73DF"/>
<path d="M144.7 105.6 l6.69 6.38 M151.3 105.6 l-6.69 6.38" stroke="#000" stroke-width="0.98" fill="none"/>
<circle cx="142.8" cy="114.6" r="3.61" fill="#000"/>
<circle cx="139.8" cy="125.0" r="3.61" fill="#000"/>
<circle cx="142.3" cy="125.0" r="3.61" fill="#000"/>
<circle cx="166.0" cy="108.0" r="3.57" fill="#1E7BFA"/>
<circle cx="164.5" cy="116.5" r="3.57" fill="#1E7BFA"/>
<circle cx="161.0" cy="116.4" r="3.61" fill="#000"/>
<circle cx="163.7" cy="119.6" r="3.61" fill="#000"/>
<circle cx="178.3" cy="121.4" r="3.61" fill="#000"/>
<g transform="translate(176.0,99.2) scale(0.76)"><path d="M0 -4.6 v9.2 M-4.6 0 h9.2 M-3.3 -3.3 l6.6 6.6 M3.3 -3.3 l-6.6 6.6" stroke="#000" stroke-width="1.5" fill="none"/></g>
<circle cx="175.6" cy="98.7" r="3.38" fill="#FF73DF"/>
<circle cx="180.9" cy="107.8" r="3.61" fill="#000"/>
<path d="M183.7 100.8 h7.30 M187.3 97.2 v7.30" stroke="#000" stroke-width="1.37" fill="none"/>
<polygon points="192.7,92.5 193.5,94.6 195.8,94.8 194.1,96.2 194.6,98.4 192.7,97.2 190.8,98.4 191.3,96.2 189.6,94.8 191.9,94.6" fill="none" stroke="#000" stroke-width="0.88"/>
<path d="M180.4 111.5 h7.30 M184.0 107.9 v7.30" stroke="#000" stroke-width="1.37" fill="none"/>
<circle cx="189.0" cy="108.0" r="3.57" fill="#1E7BFA"/>
<circle cx="190.5" cy="108.5" r="3.61" fill="#000"/>
<path d="M191.9 106.0 h7.30 M195.5 102.4 v7.30" stroke="#000" stroke-width="1.37" fill="none"/>
<circle cx="206.4" cy="93.2" r="3.38" fill="#FF73DF"/>
<path d="M206.6 106.3 h7.30 M210.2 102.7 v7.30" stroke="#000" stroke-width="1.37" fill="none"/>
<path d="M195.2 128.7 l3.12 5.47 h-6.23 z" fill="#1E7BFA"/>
<circle cx="304.2" cy="47.9" r="3.61" fill="#000"/>
<g transform="translate(248.0,66.8) scale(0.65)"><path d="M2 -4.6 l-3 3.6 l3.2 -0.6 l-2.6 4 l-1 1.6" stroke="#000" stroke-width="1.5" fill="none"/><path d="M2.4 -1.2 l-2.2 2.2" stroke="#000" stroke-width="1.2"/></g>
<g transform="translate(363.0,39.0) scale(0.65)"><path d="M-2.8 -4 h5.6 l-1.6 2.2 h-2.4z M0 -2 v5 M-1.8 0.2 h3.6" stroke="#000" stroke-width="1.3" fill="#000"/></g>
<g transform="translate(370.5,40.3) scale(0.65)"><path d="M2 -4.6 l-3 3.6 l3.2 -0.6 l-2.6 4 l-1 1.6" stroke="#000" stroke-width="1.5" fill="none"/><path d="M2.4 -1.2 l-2.2 2.2" stroke="#000" stroke-width="1.2"/></g>
<g transform="translate(376.6,58.4) scale(0.65)"><path d="M2 -4.6 l-3 3.6 l3.2 -0.6 l-2.6 4 l-1 1.6" stroke="#000" stroke-width="1.5" fill="none"/><path d="M2.4 -1.2 l-2.2 2.2" stroke="#000" stroke-width="1.2"/></g>
<g transform="translate(385.9,58.4) scale(0.65)"><path d="M2 -4.6 l-3 3.6 l3.2 -0.6 l-2.6 4 l-1 1.6" stroke="#000" stroke-width="1.5" fill="none"/><path d="M2.4 -1.2 l-2.2 2.2" stroke="#000" stroke-width="1.2"/></g>
<circle cx="390.5" cy="60.5" r="3.38" fill="#FF73DF"/>
<circle cx="384.5" cy="72.0" r="3.57" fill="#1E7BFA"/>
<circle cx="386.2" cy="72.8" r="3.38" fill="#FF73DF"/>
<circle cx="401.8" cy="81.1" r="3.38" fill="#FF73DF"/>
<path d="M456.7 58.4 l3.12 5.47 h-6.23 z" fill="#1E7BFA"/>
<circle cx="359.5" cy="80.6" r="3.57" fill="#1E7BFA"/>
<circle cx="365.2" cy="82.3" r="3.61" fill="#000"/>
<circle cx="366.0" cy="85.0" r="3.61" fill="#000"/>
<circle cx="348.0" cy="88.5" r="3.57" fill="#1E7BFA"/>
<circle cx="352.3" cy="88.5" r="3.38" fill="#FF73DF"/>
<circle cx="345.2" cy="94.5" r="3.57" fill="#1E7BFA"/>
<circle cx="354.5" cy="93.7" r="3.57" fill="#1E7BFA"/>
<path d="M356.7 89.4 h7.30 M360.3 85.8 v7.30" stroke="#000" stroke-width="1.37" fill="none"/>
<circle cx="366.8" cy="91.6" r="3.38" fill="#FF73DF"/>
<circle cx="375.3" cy="93.7" r="3.61" fill="#000"/>
<circle cx="340.5" cy="102.0" r="3.38" fill="#FF73DF"/>
<path d="M348.3 100.2 l1.90 3.65 l-1.90 3.65 l-1.90 -3.65 z" fill="#C500FF"/>
<circle cx="355.4" cy="100.5" r="3.61" fill="#000"/>
<circle cx="361.7" cy="101.5" r="3.38" fill="#FF73DF"/>
<circle cx="364.0" cy="96.5" r="3.38" fill="#FF73DF"/>
<circle cx="359.0" cy="105.0" r="3.38" fill="#FF73DF"/>
<path d="M356.6 107.0 l3.12 5.47 h-6.23 z" fill="#1E7BFA"/>
<path d="M362.0 107.8 h7.30 M365.6 104.2 v7.30" stroke="#000" stroke-width="1.37" fill="none"/>
<path d="M364.5 103.9 l1.90 3.65 l-1.90 3.65 l-1.90 -3.65 z" fill="#C500FF"/>
<circle cx="369.4" cy="109.8" r="3.57" fill="#1E7BFA"/>
<path d="M332.0 112.9 l8.4 7 M340.4 112.9 l-8.4 7" stroke="#000" stroke-width="2.2" fill="none"/>
<circle cx="505.6" cy="83.6" r="3.61" fill="#000"/>
<circle cx="577.2" cy="70.0" r="2.20" fill="#66FF33"/>
<circle cx="526.5" cy="115.4" r="3.61" fill="#000"/>
<circle cx="507.6" cy="128.2" r="3.61" fill="#000"/>
<circle cx="572.3" cy="51.6" r="3.61" fill="#000"/>
<circle cx="576.3" cy="53.4" r="3.61" fill="#000"/>
<path d="M607.0 51.0 l6.69 6.38 M613.6 51.0 l-6.69 6.38" stroke="#000" stroke-width="0.98" fill="none"/>
<g transform="translate(636.0,58.0) scale(0.65)"><path d="M2 -4.6 l-3 3.6 l3.2 -0.6 l-2.6 4 l-1 1.6" stroke="#000" stroke-width="1.5" fill="none"/><path d="M2.4 -1.2 l-2.2 2.2" stroke="#000" stroke-width="1.2"/></g>
<circle cx="545.3" cy="107.8" r="3.61" fill="#000"/>
<circle cx="553.4" cy="107.8" r="3.61" fill="#000"/>
<circle cx="566.8" cy="102.5" r="3.61" fill="#000"/>
<path d="M597.9 102.8 h7.30 M601.5 99.2 v7.30" stroke="#000" stroke-width="1.37" fill="none"/>
<polygon points="575.0,104.0 575.8,106.1 578.1,106.3 576.4,107.7 576.9,109.9 575.0,108.7 573.1,109.9 573.6,107.7 571.9,106.3 574.2,106.1" fill="none" stroke="#000" stroke-width="0.88"/>
<path d="M587.9 116.4 l6.69 6.38 M594.5 116.4 l-6.69 6.38" stroke="#000" stroke-width="0.98" fill="none"/>
<circle cx="534.0" cy="129.0" r="3.38" fill="#FF73DF"/>
<circle cx="550.5" cy="134.6" r="3.38" fill="#FF73DF"/>
<path d="M546.7 137.8 l1.90 3.65 l-1.90 3.65 l-1.90 -3.65 z" fill="#C500FF"/>
<path d="M527.9 174.8 l1.90 3.65 l-1.90 3.65 l-1.90 -3.65 z" fill="#C500FF"/>
<circle cx="580.8" cy="206.9" r="3.61" fill="#000"/>
<circle cx="582.0" cy="210.7" r="3.61" fill="#000"/>
<circle cx="584.5" cy="215.2" r="3.61" fill="#000"/>
<circle cx="585.3" cy="223.8" r="3.61" fill="#000"/>
<circle cx="612.7" cy="227.0" r="3.61" fill="#000"/>
<path d="M607.2 210.9 l1.90 3.65 l-1.90 3.65 l-1.90 -3.65 z" fill="#C500FF"/>
<g transform="translate(580.0,205.0) scale(0.76)"><path d="M0 -4.6 v9.2 M-4.6 0 h9.2 M-3.3 -3.3 l6.6 6.6 M3.3 -3.3 l-6.6 6.6" stroke="#000" stroke-width="1.5" fill="none"/></g>
<g transform="translate(552.5,240.9) scale(0.76)"><path d="M0 -4.6 v9.2 M-4.6 0 h9.2 M-3.3 -3.3 l6.6 6.6 M3.3 -3.3 l-6.6 6.6" stroke="#000" stroke-width="1.5" fill="none"/></g>
<path d="M560.7 234.3 h2.40 v2.40 h2.40 v2.40 h-2.40 v2.40 h-2.40 v-2.40 h-2.40 v-2.40 h2.40 z" stroke="#111" stroke-width="0.9" fill="#fff" fill-opacity="0.3"/>
<path d="M596.7 241.1 h2.40 v2.40 h2.40 v2.40 h-2.40 v2.40 h-2.40 v-2.40 h-2.40 v-2.40 h2.40 z" stroke="#111" stroke-width="0.9" fill="#fff" fill-opacity="0.3"/>
<circle cx="608.5" cy="247.2" r="3.61" fill="#000"/>
<path d="M604.7 247.4 l1.90 3.65 l-1.90 3.65 l-1.90 -3.65 z" fill="#C500FF"/>
<path d="M616.0 241.1 l1.90 3.65 l-1.90 3.65 l-1.90 -3.65 z" fill="#C500FF"/>
<path d="M610.5 246.4 l1.90 3.65 l-1.90 3.65 l-1.90 -3.65 z" fill="#C500FF"/>
<circle cx="197.0" cy="166.1" r="3.61" fill="#000"/>
<path d="M245.6 169.8 l1.90 3.65 l-1.90 3.65 l-1.90 -3.65 z" fill="#C500FF"/>
<path d="M241.9 184.9 l1.90 3.65 l-1.90 3.65 l-1.90 -3.65 z" fill="#C500FF"/>
<circle cx="240.0" cy="235.4" r="3.38" fill="#FF73DF"/>
<polygon points="220.5,241.7 221.3,243.8 223.6,244.0 221.9,245.4 222.4,247.6 220.5,246.4 218.6,247.6 219.1,245.4 217.4,244.0 219.7,243.8" fill="none" stroke="#000" stroke-width="0.88"/>
<path d="M312.3 151.7 h2.40 v2.40 h2.40 v2.40 h-2.40 v2.40 h-2.40 v-2.40 h-2.40 v-2.40 h2.40 z" stroke="#111" stroke-width="0.9" fill="#fff" fill-opacity="0.3"/>
<path d="M337.0 170.1 l1.90 3.65 l-1.90 3.65 l-1.90 -3.65 z" fill="#C500FF"/>
<path d="M396.5 154.9 h2.40 v2.40 h2.40 v2.40 h-2.40 v2.40 h-2.40 v-2.40 h-2.40 v-2.40 h2.40 z" stroke="#111" stroke-width="0.9" fill="#fff" fill-opacity="0.3"/>
<path d="M361.8 187.7 h2.40 v2.40 h2.40 v2.40 h-2.40 v2.40 h-2.40 v-2.40 h-2.40 v-2.40 h2.40 z" stroke="#111" stroke-width="0.9" fill="#fff" fill-opacity="0.3"/>
<path d="M380.8 211.2 h7.30 M384.4 207.6 v7.30" stroke="#000" stroke-width="1.37" fill="none"/>
<path d="M398.8 225.4 h2.40 v2.40 h2.40 v2.40 h-2.40 v2.40 h-2.40 v-2.40 h-2.40 v-2.40 h2.40 z" stroke="#111" stroke-width="0.9" fill="#fff" fill-opacity="0.3"/>
</g>
<g transform="translate(38,43.5)"><path d="M0 -11.5 L1 -1 L10.5 0 L1 1 L0 10.5 L-1 1 L-10.5 0 L-1 -1Z" fill="#0a1030"/><text x="0" y="-12.2" font-size="4.2" text-anchor="middle" fill="#223">N</text></g>
<text x="36.5" y="169.3" font-size="13.2">IGBP</text>
<circle cx="42.8" cy="186.4" r="4.70" fill="#1E7BFA"/>
<text x="64.8" y="191.0" font-size="13.2">CRO</text>
<path d="M42.8 204.5 l4.10 7.20 h-8.20 z" fill="#1E7BFA"/>
<text x="64.8" y="212.8" font-size="13.2">CSH</text>
<path d="M38.0 229.9 h9.60 M42.8 225.1 v9.60" stroke="#000" stroke-width="1.80" fill="none"/>
<text x="64.8" y="234.5" font-size="13.2">DBF</text>
<circle cx="42.8" cy="251.7" r="2.90" fill="#66FF33"/>
<text x="64.8" y="256.3" font-size="13.2">DNF</text>
<path d="M42.8 268.7 l2.50 4.80 l-2.50 4.80 l-2.50 -4.80 z" fill="#C500FF"/>
<text x="64.8" y="278.1" font-size="13.2">EBF</text>
<circle cx="42.8" cy="295.2" r="4.45" fill="#FF73DF"/>
<text x="64.8" y="299.8" font-size="13.2">ENF</text>
<circle cx="112.5" cy="164.7" r="4.75" fill="#000"/>
<text x="134.6" y="169.3" font-size="13.2">GRA</text>
<polygon points="112.5,182.4 113.6,185.2 116.6,185.4 114.3,187.3 115.0,190.2 112.5,188.6 110.0,190.2 110.7,187.3 108.4,185.4 111.4,185.2" fill="none" stroke="#000" stroke-width="1.10"/>
<text x="134.6" y="191.0" font-size="13.2">MF</text>
<path d="M108.1 204.0 l8.80 8.40 M116.9 204.0 l-8.80 8.40" stroke="#000" stroke-width="1.15" fill="none"/>
<text x="134.6" y="212.8" font-size="13.2">OSH</text>
<path d="M111.2 225.8 h2.70 v2.70 h2.70 v2.70 h-2.70 v2.70 h-2.70 v-2.70 h-2.70 v-2.70 h2.70 z" stroke="#444" stroke-width="0.90" fill="#d8ecf0" fill-opacity="0.35"/>
<text x="134.6" y="234.5" font-size="13.2">SAV</text>
<g transform="translate(112.5,251.7) scale(0.85)"><path d="M-2.8 -4 h5.6 l-1.6 2.2 h-2.4z M0 -2 v5 M-1.8 0.2 h3.6" stroke="#000" stroke-width="1.3" fill="#000"/></g>
<text x="134.6" y="256.3" font-size="13.2">SNO</text>
<g transform="translate(112.5,273.5) scale(0.85)"><path d="M2 -4.6 l-3 3.6 l3.2 -0.6 l-2.6 4 l-1 1.6" stroke="#000" stroke-width="1.5" fill="none"/><path d="M2.4 -1.2 l-2.2 2.2" stroke="#000" stroke-width="1.2"/></g>
<text x="134.6" y="278.1" font-size="13.2">WET</text>
<g transform="translate(112.5,295.2) scale(1.00)"><path d="M0 -4.6 v9.2 M-4.6 0 h9.2 M-3.3 -3.3 l6.6 6.6 M3.3 -3.3 l-6.6 6.6" stroke="#000" stroke-width="1.5" fill="none"/></g>
<text x="134.6" y="299.8" font-size="13.2">WSA</text>
<rect x="41.1" y="370.1" width="37.6" height="18" fill="#73B2FF"/>
<text x="86.0" y="384.4" font-size="13.4">Water bodies</text>
<rect x="41.1" y="395.6" width="37.6" height="18" fill="#267300"/>
<text x="86.0" y="409.9" font-size="13.4">Evergreen needleleaf forests</text>
<rect x="41.1" y="421.0" width="37.6" height="18" fill="#38A800"/>
<text x="86.0" y="435.3" font-size="13.4">Evergreen broadleaf forests</text>
<rect x="41.1" y="446.5" width="37.6" height="18" fill="#737300"/>
<text x="86.0" y="460.8" font-size="13.4">Deciduous needleleaf forests</text>
<rect x="41.1" y="471.9" width="37.6" height="18" fill="#A8A800"/>
<text x="86.0" y="486.2" font-size="13.4">Deciduous broadleaf forests</text>
<rect x="41.1" y="497.4" width="37.6" height="18" fill="#73FFDF"/>
<text x="86.0" y="511.7" font-size="13.4">Mixed forests</text>
<rect x="268.9" y="370.1" width="37.6" height="18" fill="#ABCD66"/>
<text x="313.8" y="384.4" font-size="13.4">Closed shrublands</text>
<rect x="268.9" y="395.6" width="37.6" height="18" fill="#F5F57A"/>
<text x="313.8" y="409.9" font-size="13.4">Open shrublands</text>
<rect x="268.9" y="421.0" width="37.6" height="18" fill="#A3FF73"/>
<text x="313.8" y="435.3" font-size="13.4">Woody savannas</text>
<rect x="268.9" y="446.5" width="37.6" height="18" fill="#CDCD66"/>
<text x="313.8" y="460.8" font-size="13.4">Savannas</text>
<rect x="268.9" y="471.9" width="37.6" height="18" fill="#D3FFBE"/>
<text x="313.8" y="486.2" font-size="13.4">Grasslands</text>
<rect x="268.9" y="497.4" width="37.6" height="18" fill="#894444"/>
<text x="313.8" y="511.7" font-size="13.4">Permanent wetlands</text>
<rect x="450.1" y="370.1" width="37.6" height="18" fill="#FF7F7F"/>
<text x="494.5" y="384.4" font-size="13.4">Croplands</text>
<rect x="450.1" y="395.6" width="37.6" height="18" fill="#B2B2B2"/>
<text x="494.5" y="409.9" font-size="13.4">Urban and built-up lands</text>
<rect x="450.1" y="421.0" width="37.6" height="18" fill="#E8BEFF"/>
<text x="494.5" y="435.3" font-size="13.4">natural vegetation mosaics</text>
<rect x="450.1" y="446.5" width="37.6" height="18" fill="#E1E1E1"/>
<text x="494.5" y="460.8" font-size="13.4">Snow and ice</text>
<rect x="450.1" y="471.9" width="37.6" height="18" fill="#F5CA7A"/>
<text x="494.5" y="486.2" font-size="13.4">Barren</text>
<path d="M451.3 520.4 H616.0 M451.8 520.4 v-8.8 M472.3 520.4 v-6.4 M492.7 520.4 v-6.4 M513.2 520.4 v-6.4 M533.6 520.4 v-8.8 M554.1 520.4 v-6.4 M574.6 520.4 v-6.4 M595.0 520.4 v-6.4 M615.5 520.4 v-8.8" stroke="#000" stroke-width="1" fill="none"/>
<text x="451.8" y="504.2" font-size="13.4" text-anchor="middle">0</text>
<text x="492.7" y="504.2" font-size="13.4" text-anchor="middle">2,500</text>
<text x="533.6" y="504.2" font-size="13.4" text-anchor="middle">5,000</text>
<text x="598" y="504.2" font-size="13.4">10,000 km</text>
<g>
<polygon fill="#D2B994" points="751.8,291.7 800,320 800,386.7 751.8,386.7"/>
<polygon fill="#FDBD2C" points="751.8,143.3 754.8,156.2 757.6,169.4 760.5,184.5 765.2,195.1 769,217.8 772.8,236.7 776.5,255.6 780.3,274.5 783,290 787,310 787.5,312.8 751.8,291.7"/>
<polygon fill="#A9D3A9" points="756.7,150.5 764.2,160.9 771.8,162.8 783.1,165.6 800,171 800,216 779.6,205 779.4,198.9 774.6,180 769,173.2 764.2,160.9"/>
<polygon fill="#86A862" points="779.4,203.5 800,214 800,231 785,211.2 779.4,198.9"/>
<polygon fill="#B0694A" points="751.8,143.3 756.7,150.5 764.2,160.9 769,173.2 774.6,180 779.4,198.9 785,211.2 800,228 800,313.5 788.8,313.5 787,307.8 782.2,287 778.4,270 776.5,255.6 772.8,236.7 769,217.8 765.2,195.1 760.5,184.5 757.6,169.4 754.8,156.2"/>
<polygon fill="#7DA04A" points="787.5,312.5 800,312.5 800,345"/>
<path fill="#BEBEBE" d="M751.8 143.3 L751.8 121.2 C752.5 113 755 108 757.6 107 L762.4 108 C764.5 110 766 112.5 767 114.6 L771.8 125 L779.4 139.1 L787 151.4 L800 160 L800 171 L783.1 165.6 L771.8 162.8 L764.2 160.9 L756.7 150.5 Z"/>
<circle cx="765.2" cy="124.0" r="1.9" fill="#000"/>
<circle cx="768.0" cy="128.8" r="1.9" fill="#000"/>
<circle cx="768.6" cy="130.6" r="1.9" fill="#000"/>
<circle cx="756.7" cy="133.9" r="1.9" fill="#000"/>
<circle cx="757.3" cy="136.9" r="1.9" fill="#000"/>
<circle cx="763.3" cy="144.8" r="1.9" fill="#000"/>
<circle cx="761.0" cy="146.7" r="1.9" fill="#000"/>
<circle cx="767.6" cy="144.3" r="1.9" fill="#000"/>
<circle cx="769.9" cy="173.7" r="1.9" fill="#000"/>
<circle cx="779.4" cy="173.2" r="1.9" fill="#000"/>
<circle cx="761.0" cy="177.3" r="1.9" fill="#000"/>
<circle cx="771.8" cy="185.5" r="1.9" fill="#000"/>
<circle cx="763.3" cy="188.3" r="1.9" fill="#000"/>
<circle cx="793.9" cy="179.8" r="1.9" fill="#000"/>
<circle cx="763.3" cy="188.5" r="1.9" fill="#000"/>
<circle cx="770.9" cy="185.7" r="1.9" fill="#000"/>
<circle cx="769.0" cy="192.3" r="1.9" fill="#000"/>
<circle cx="771.8" cy="195.1" r="1.9" fill="#000"/>
<circle cx="767.1" cy="199.8" r="1.9" fill="#000"/>
<circle cx="769.0" cy="203.6" r="1.9" fill="#000"/>
<circle cx="786.0" cy="193.2" r="1.9" fill="#000"/>
<circle cx="790.7" cy="197.0" r="1.9" fill="#000"/>
<circle cx="780.3" cy="202.7" r="1.9" fill="#000"/>
<circle cx="786.0" cy="202.7" r="1.9" fill="#000"/>
<circle cx="785.0" cy="206.5" r="1.9" fill="#000"/>
<circle cx="769.0" cy="208.4" r="1.9" fill="#000"/>
<circle cx="773.7" cy="210.2" r="1.9" fill="#000"/>
<circle cx="783.1" cy="212.1" r="1.9" fill="#000"/>
<circle cx="784.1" cy="215.0" r="1.9" fill="#000"/>
<circle cx="775.6" cy="215.0" r="1.9" fill="#000"/>
<circle cx="769.0" cy="217.8" r="1.9" fill="#000"/>
<circle cx="772.8" cy="222.5" r="1.9" fill="#000"/>
<circle cx="779.4" cy="224.4" r="1.9" fill="#000"/>
<circle cx="770.9" cy="230.7" r="1.9" fill="#000"/>
<circle cx="781.3" cy="230.1" r="1.9" fill="#000"/>
<circle cx="787.9" cy="231.0" r="1.9" fill="#000"/>
<circle cx="790.7" cy="234.8" r="1.9" fill="#000"/>
<circle cx="785.0" cy="239.5" r="1.9" fill="#000"/>
<circle cx="769.9" cy="241.4" r="1.9" fill="#000"/>
<circle cx="784.1" cy="249.9" r="1.9" fill="#000"/>
<circle cx="778.4" cy="250.9" r="1.9" fill="#000"/>
<circle cx="776.0" cy="253.7" r="1.9" fill="#000"/>
<circle cx="792.6" cy="248.1" r="1.9" fill="#000"/>
<circle cx="761.8" cy="259.8" r="1.9" fill="#000"/>
<circle cx="787.9" cy="260.3" r="1.9" fill="#000"/>
<circle cx="791.7" cy="255.6" r="1.9" fill="#000"/>
<circle cx="792.6" cy="261.3" r="1.9" fill="#000"/>
<circle cx="786.9" cy="263.2" r="1.9" fill="#000"/>
<circle cx="789.8" cy="267.9" r="1.9" fill="#000"/>
<circle cx="787.9" cy="270.7" r="1.9" fill="#000"/>
<circle cx="791.7" cy="274.5" r="1.9" fill="#000"/>
<circle cx="790.7" cy="277.4" r="1.9" fill="#000"/>
<circle cx="790.7" cy="271.9" r="1.9" fill="#000"/>
<circle cx="790.7" cy="275.7" r="1.9" fill="#000"/>
<circle cx="763.7" cy="288.3" r="1.9" fill="#000"/>
<circle cx="774.6" cy="294.6" r="1.9" fill="#000"/>
<circle cx="776.5" cy="298.4" r="1.9" fill="#000"/>
<circle cx="779.4" cy="300.2" r="1.9" fill="#000"/>
<circle cx="785.0" cy="298.9" r="1.9" fill="#000"/>
<circle cx="773.7" cy="303.1" r="1.9" fill="#000"/>
<circle cx="767.1" cy="301.8" r="1.9" fill="#000"/>
<circle cx="788.8" cy="301.2" r="1.9" fill="#000"/>
<circle cx="788.8" cy="305.0" r="1.9" fill="#000"/>
<circle cx="761.0" cy="309.7" r="1.9" fill="#000"/>
<circle cx="778.4" cy="310.1" r="1.9" fill="#000"/>
<circle cx="769.9" cy="310.6" r="1.9" fill="#000"/>
<circle cx="769.9" cy="314.4" r="1.9" fill="#000"/>
<circle cx="772.8" cy="315.4" r="1.9" fill="#000"/>
<circle cx="776.5" cy="320.5" r="1.9" fill="#000"/>
<circle cx="772.8" cy="322.0" r="1.9" fill="#000"/>
<circle cx="771.8" cy="325.8" r="1.9" fill="#000"/>
<circle cx="774.6" cy="326.7" r="1.9" fill="#000"/>
<circle cx="792.6" cy="316.3" r="1.9" fill="#000"/>
<circle cx="792.6" cy="322.9" r="1.9" fill="#000"/>
<circle cx="783.1" cy="339.6" r="1.9" fill="#000"/>
<circle cx="776.9" cy="343.3" r="1.9" fill="#000"/>
<circle cx="789.8" cy="342.8" r="1.9" fill="#000"/>
<circle cx="769.0" cy="355.4" r="1.9" fill="#000"/>
<circle cx="776.8" cy="343.4" r="1.9" fill="#000"/>
<circle cx="783.3" cy="340.0" r="1.9" fill="#000"/>
<circle cx="790.1" cy="342.5" r="1.9" fill="#000"/>
<circle cx="769.2" cy="355.6" r="1.9" fill="#000"/>
<circle cx="769.7" cy="374.8" r="1.9" fill="#000"/>
<circle cx="769.2" cy="380.5" r="1.9" fill="#000"/>
<path d="M737.5 97.4 V402.4" stroke="#999" stroke-width="1" fill="none"/>
<path d="M737 97.4 H800" stroke="#222" stroke-width="1.2" fill="none"/>
<path d="M737 402.4 H800" stroke="#000" stroke-width="1.5" fill="none"/>
<text class="sans" transform="translate(729.2,140.5) rotate(-90)" font-size="11.3" text-anchor="middle" fill="#222">-10</text>
<text class="sans" transform="translate(729.2,203.2) rotate(-90)" font-size="11.3" text-anchor="middle" fill="#222">0</text>
<text class="sans" transform="translate(729.2,265.8) rotate(-90)" font-size="11.3" text-anchor="middle" fill="#222">10</text>
<text class="sans" transform="translate(729.2,328.4) rotate(-90)" font-size="11.3" text-anchor="middle" fill="#222">20</text>
<text class="sans" transform="translate(729.2,391.3) rotate(-90)" font-size="11.3" text-anchor="middle" fill="#222">30</text>
<path d="M737.8 140.5 h6 M737.8 203.2 h6 M737.8 265.8 h6 M737.8 328.4 h6 M737.8 391.3 h6 M750.4 402.4 v-5.5" stroke="#777" stroke-width="1" fill="none"/>
<text class="sans" x="750.3" y="418.8" font-size="11.3" text-anchor="middle" fill="#222">0</text>
<text class="sans" transform="translate(713,249) rotate(-90)" font-size="11.6" text-anchor="middle" fill="#111">Mean annual temperature ( ° C)</text>
</g>
</svg></body></html>
